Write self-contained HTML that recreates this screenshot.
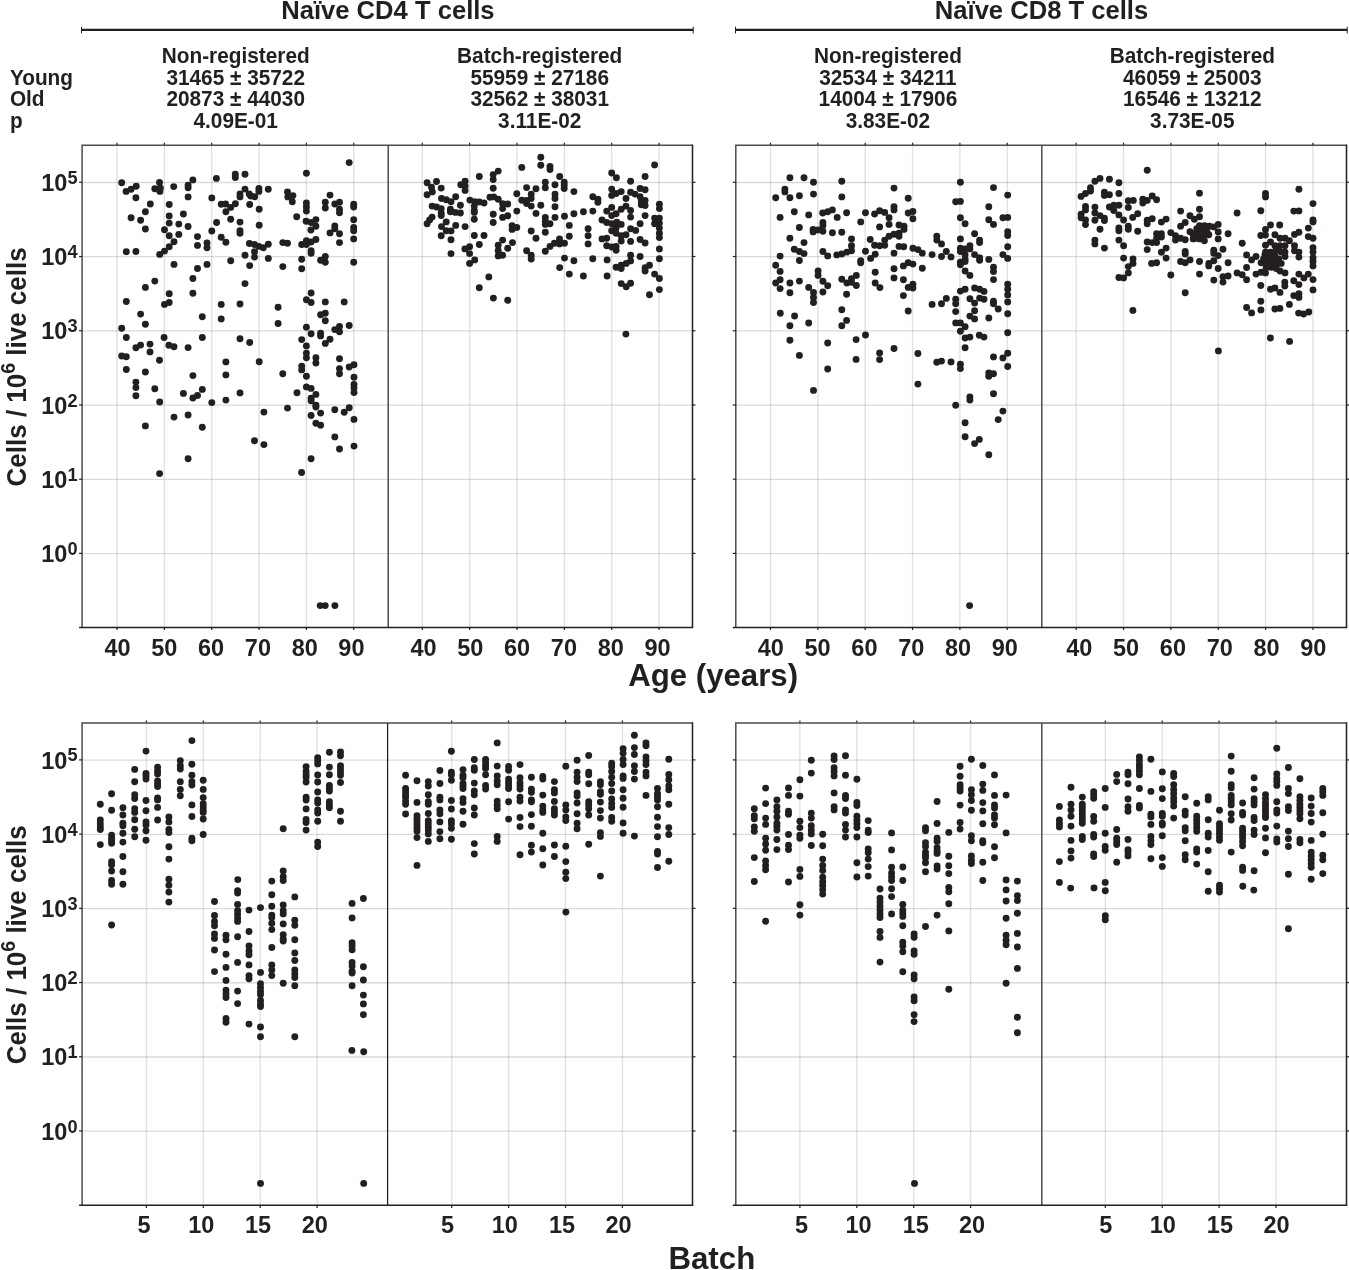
<!DOCTYPE html><html><head><meta charset="utf-8"><style>html,body{margin:0;padding:0;background:#fff;overflow:hidden;}svg{display:block;}.g{mix-blend-mode:multiply;}text{font-family:"Liberation Sans",sans-serif;font-weight:bold;fill:#231f20;}</style></head><body>
<svg width="1349" height="1270" viewBox="0 0 1349 1270">
<rect width="1349" height="1270" fill="#fff"/>
<line x1="82.1" y1="182.50" x2="692.5" y2="182.50" stroke="#d9dadd" stroke-width="1.3" class="g"/>
<line x1="82.1" y1="256.72" x2="692.5" y2="256.72" stroke="#d9dadd" stroke-width="1.3" class="g"/>
<line x1="82.1" y1="330.94" x2="692.5" y2="330.94" stroke="#d9dadd" stroke-width="1.3" class="g"/>
<line x1="82.1" y1="405.16" x2="692.5" y2="405.16" stroke="#d9dadd" stroke-width="1.3" class="g"/>
<line x1="82.1" y1="479.38" x2="692.5" y2="479.38" stroke="#d9dadd" stroke-width="1.3" class="g"/>
<line x1="82.1" y1="553.60" x2="692.5" y2="553.60" stroke="#d9dadd" stroke-width="1.3" class="g"/>
<line x1="735.8" y1="182.50" x2="1346.5" y2="182.50" stroke="#d9dadd" stroke-width="1.3" class="g"/>
<line x1="735.8" y1="256.72" x2="1346.5" y2="256.72" stroke="#d9dadd" stroke-width="1.3" class="g"/>
<line x1="735.8" y1="330.94" x2="1346.5" y2="330.94" stroke="#d9dadd" stroke-width="1.3" class="g"/>
<line x1="735.8" y1="405.16" x2="1346.5" y2="405.16" stroke="#d9dadd" stroke-width="1.3" class="g"/>
<line x1="735.8" y1="479.38" x2="1346.5" y2="479.38" stroke="#d9dadd" stroke-width="1.3" class="g"/>
<line x1="735.8" y1="553.60" x2="1346.5" y2="553.60" stroke="#d9dadd" stroke-width="1.3" class="g"/>
<line x1="117.00" y1="145.2" x2="117.00" y2="627.5" stroke="#e1e2e4" stroke-width="1.4" class="g"/>
<line x1="164.35" y1="145.2" x2="164.35" y2="627.5" stroke="#e1e2e4" stroke-width="1.4" class="g"/>
<line x1="211.70" y1="145.2" x2="211.70" y2="627.5" stroke="#e1e2e4" stroke-width="1.4" class="g"/>
<line x1="259.05" y1="145.2" x2="259.05" y2="627.5" stroke="#e1e2e4" stroke-width="1.4" class="g"/>
<line x1="306.40" y1="145.2" x2="306.40" y2="627.5" stroke="#e1e2e4" stroke-width="1.4" class="g"/>
<line x1="353.75" y1="145.2" x2="353.75" y2="627.5" stroke="#e1e2e4" stroke-width="1.4" class="g"/>
<line x1="422.30" y1="145.2" x2="422.30" y2="627.5" stroke="#e1e2e4" stroke-width="1.4" class="g"/>
<line x1="469.65" y1="145.2" x2="469.65" y2="627.5" stroke="#e1e2e4" stroke-width="1.4" class="g"/>
<line x1="517.00" y1="145.2" x2="517.00" y2="627.5" stroke="#e1e2e4" stroke-width="1.4" class="g"/>
<line x1="564.35" y1="145.2" x2="564.35" y2="627.5" stroke="#e1e2e4" stroke-width="1.4" class="g"/>
<line x1="611.70" y1="145.2" x2="611.70" y2="627.5" stroke="#e1e2e4" stroke-width="1.4" class="g"/>
<line x1="659.05" y1="145.2" x2="659.05" y2="627.5" stroke="#e1e2e4" stroke-width="1.4" class="g"/>
<line x1="770.50" y1="145.2" x2="770.50" y2="627.5" stroke="#e1e2e4" stroke-width="1.4" class="g"/>
<line x1="817.85" y1="145.2" x2="817.85" y2="627.5" stroke="#e1e2e4" stroke-width="1.4" class="g"/>
<line x1="865.20" y1="145.2" x2="865.20" y2="627.5" stroke="#e1e2e4" stroke-width="1.4" class="g"/>
<line x1="912.55" y1="145.2" x2="912.55" y2="627.5" stroke="#e1e2e4" stroke-width="1.4" class="g"/>
<line x1="959.90" y1="145.2" x2="959.90" y2="627.5" stroke="#e1e2e4" stroke-width="1.4" class="g"/>
<line x1="1007.25" y1="145.2" x2="1007.25" y2="627.5" stroke="#e1e2e4" stroke-width="1.4" class="g"/>
<line x1="1076.20" y1="145.2" x2="1076.20" y2="627.5" stroke="#e1e2e4" stroke-width="1.4" class="g"/>
<line x1="1123.55" y1="145.2" x2="1123.55" y2="627.5" stroke="#e1e2e4" stroke-width="1.4" class="g"/>
<line x1="1170.90" y1="145.2" x2="1170.90" y2="627.5" stroke="#e1e2e4" stroke-width="1.4" class="g"/>
<line x1="1218.25" y1="145.2" x2="1218.25" y2="627.5" stroke="#e1e2e4" stroke-width="1.4" class="g"/>
<line x1="1265.60" y1="145.2" x2="1265.60" y2="627.5" stroke="#e1e2e4" stroke-width="1.4" class="g"/>
<line x1="1312.95" y1="145.2" x2="1312.95" y2="627.5" stroke="#e1e2e4" stroke-width="1.4" class="g"/>
<line x1="82.1" y1="760.10" x2="692.5" y2="760.10" stroke="#d9dadd" stroke-width="1.3" class="g"/>
<line x1="82.1" y1="834.32" x2="692.5" y2="834.32" stroke="#d9dadd" stroke-width="1.3" class="g"/>
<line x1="82.1" y1="908.54" x2="692.5" y2="908.54" stroke="#d9dadd" stroke-width="1.3" class="g"/>
<line x1="82.1" y1="982.76" x2="692.5" y2="982.76" stroke="#d9dadd" stroke-width="1.3" class="g"/>
<line x1="82.1" y1="1056.98" x2="692.5" y2="1056.98" stroke="#d9dadd" stroke-width="1.3" class="g"/>
<line x1="82.1" y1="1131.20" x2="692.5" y2="1131.20" stroke="#d9dadd" stroke-width="1.3" class="g"/>
<line x1="735.8" y1="760.10" x2="1346.5" y2="760.10" stroke="#d9dadd" stroke-width="1.3" class="g"/>
<line x1="735.8" y1="834.32" x2="1346.5" y2="834.32" stroke="#d9dadd" stroke-width="1.3" class="g"/>
<line x1="735.8" y1="908.54" x2="1346.5" y2="908.54" stroke="#d9dadd" stroke-width="1.3" class="g"/>
<line x1="735.8" y1="982.76" x2="1346.5" y2="982.76" stroke="#d9dadd" stroke-width="1.3" class="g"/>
<line x1="735.8" y1="1056.98" x2="1346.5" y2="1056.98" stroke="#d9dadd" stroke-width="1.3" class="g"/>
<line x1="735.8" y1="1131.20" x2="1346.5" y2="1131.20" stroke="#d9dadd" stroke-width="1.3" class="g"/>
<line x1="146.40" y1="722.9" x2="146.40" y2="1205.3" stroke="#e1e2e4" stroke-width="1.4" class="g"/>
<line x1="203.30" y1="722.9" x2="203.30" y2="1205.3" stroke="#e1e2e4" stroke-width="1.4" class="g"/>
<line x1="260.20" y1="722.9" x2="260.20" y2="1205.3" stroke="#e1e2e4" stroke-width="1.4" class="g"/>
<line x1="317.10" y1="722.9" x2="317.10" y2="1205.3" stroke="#e1e2e4" stroke-width="1.4" class="g"/>
<line x1="451.70" y1="722.9" x2="451.70" y2="1205.3" stroke="#e1e2e4" stroke-width="1.4" class="g"/>
<line x1="508.60" y1="722.9" x2="508.60" y2="1205.3" stroke="#e1e2e4" stroke-width="1.4" class="g"/>
<line x1="565.50" y1="722.9" x2="565.50" y2="1205.3" stroke="#e1e2e4" stroke-width="1.4" class="g"/>
<line x1="622.40" y1="722.9" x2="622.40" y2="1205.3" stroke="#e1e2e4" stroke-width="1.4" class="g"/>
<line x1="799.90" y1="722.9" x2="799.90" y2="1205.3" stroke="#e1e2e4" stroke-width="1.4" class="g"/>
<line x1="856.80" y1="722.9" x2="856.80" y2="1205.3" stroke="#e1e2e4" stroke-width="1.4" class="g"/>
<line x1="913.70" y1="722.9" x2="913.70" y2="1205.3" stroke="#e1e2e4" stroke-width="1.4" class="g"/>
<line x1="970.60" y1="722.9" x2="970.60" y2="1205.3" stroke="#e1e2e4" stroke-width="1.4" class="g"/>
<line x1="1105.30" y1="722.9" x2="1105.30" y2="1205.3" stroke="#e1e2e4" stroke-width="1.4" class="g"/>
<line x1="1162.20" y1="722.9" x2="1162.20" y2="1205.3" stroke="#e1e2e4" stroke-width="1.4" class="g"/>
<line x1="1219.10" y1="722.9" x2="1219.10" y2="1205.3" stroke="#e1e2e4" stroke-width="1.4" class="g"/>
<line x1="1276.00" y1="722.9" x2="1276.00" y2="1205.3" stroke="#e1e2e4" stroke-width="1.4" class="g"/>
<path d="M82.1,627.5 L82.1,145.2 L692.5,145.2" fill="none" stroke="#4f4b4d" stroke-width="1.5"/>
<line x1="692.5" y1="144.5" x2="692.5" y2="627.5" stroke="#231f20" stroke-width="1.5"/>
<line x1="388.2" y1="145.2" x2="388.2" y2="627.5" stroke="#4f4b4d" stroke-width="1.5"/>
<line x1="79.1" y1="627.5" x2="693.2" y2="627.5" stroke="#231f20" stroke-width="1.5"/>
<line x1="79.1" y1="182.30" x2="82.1" y2="182.30" stroke="#231f20" stroke-width="1.2"/>
<line x1="692.5" y1="182.30" x2="695.5" y2="182.30" stroke="#231f20" stroke-width="1.2"/>
<line x1="79.1" y1="256.52" x2="82.1" y2="256.52" stroke="#231f20" stroke-width="1.2"/>
<line x1="692.5" y1="256.52" x2="695.5" y2="256.52" stroke="#231f20" stroke-width="1.2"/>
<line x1="79.1" y1="330.74" x2="82.1" y2="330.74" stroke="#231f20" stroke-width="1.2"/>
<line x1="692.5" y1="330.74" x2="695.5" y2="330.74" stroke="#231f20" stroke-width="1.2"/>
<line x1="79.1" y1="404.96" x2="82.1" y2="404.96" stroke="#231f20" stroke-width="1.2"/>
<line x1="692.5" y1="404.96" x2="695.5" y2="404.96" stroke="#231f20" stroke-width="1.2"/>
<line x1="79.1" y1="479.18" x2="82.1" y2="479.18" stroke="#231f20" stroke-width="1.2"/>
<line x1="692.5" y1="479.18" x2="695.5" y2="479.18" stroke="#231f20" stroke-width="1.2"/>
<line x1="79.1" y1="553.40" x2="82.1" y2="553.40" stroke="#231f20" stroke-width="1.2"/>
<line x1="692.5" y1="553.40" x2="695.5" y2="553.40" stroke="#231f20" stroke-width="1.2"/>
<line x1="117.00" y1="142.7" x2="117.00" y2="144.89999999999998" stroke="#231f20" stroke-width="1.2"/>
<line x1="117.00" y1="627.5" x2="117.00" y2="630.1" stroke="#231f20" stroke-width="1.2"/>
<line x1="164.35" y1="142.7" x2="164.35" y2="144.89999999999998" stroke="#231f20" stroke-width="1.2"/>
<line x1="164.35" y1="627.5" x2="164.35" y2="630.1" stroke="#231f20" stroke-width="1.2"/>
<line x1="211.70" y1="142.7" x2="211.70" y2="144.89999999999998" stroke="#231f20" stroke-width="1.2"/>
<line x1="211.70" y1="627.5" x2="211.70" y2="630.1" stroke="#231f20" stroke-width="1.2"/>
<line x1="259.05" y1="142.7" x2="259.05" y2="144.89999999999998" stroke="#231f20" stroke-width="1.2"/>
<line x1="259.05" y1="627.5" x2="259.05" y2="630.1" stroke="#231f20" stroke-width="1.2"/>
<line x1="306.40" y1="142.7" x2="306.40" y2="144.89999999999998" stroke="#231f20" stroke-width="1.2"/>
<line x1="306.40" y1="627.5" x2="306.40" y2="630.1" stroke="#231f20" stroke-width="1.2"/>
<line x1="353.75" y1="142.7" x2="353.75" y2="144.89999999999998" stroke="#231f20" stroke-width="1.2"/>
<line x1="353.75" y1="627.5" x2="353.75" y2="630.1" stroke="#231f20" stroke-width="1.2"/>
<line x1="422.30" y1="142.7" x2="422.30" y2="144.89999999999998" stroke="#231f20" stroke-width="1.2"/>
<line x1="422.30" y1="627.5" x2="422.30" y2="630.1" stroke="#231f20" stroke-width="1.2"/>
<line x1="469.65" y1="142.7" x2="469.65" y2="144.89999999999998" stroke="#231f20" stroke-width="1.2"/>
<line x1="469.65" y1="627.5" x2="469.65" y2="630.1" stroke="#231f20" stroke-width="1.2"/>
<line x1="517.00" y1="142.7" x2="517.00" y2="144.89999999999998" stroke="#231f20" stroke-width="1.2"/>
<line x1="517.00" y1="627.5" x2="517.00" y2="630.1" stroke="#231f20" stroke-width="1.2"/>
<line x1="564.35" y1="142.7" x2="564.35" y2="144.89999999999998" stroke="#231f20" stroke-width="1.2"/>
<line x1="564.35" y1="627.5" x2="564.35" y2="630.1" stroke="#231f20" stroke-width="1.2"/>
<line x1="611.70" y1="142.7" x2="611.70" y2="144.89999999999998" stroke="#231f20" stroke-width="1.2"/>
<line x1="611.70" y1="627.5" x2="611.70" y2="630.1" stroke="#231f20" stroke-width="1.2"/>
<line x1="659.05" y1="142.7" x2="659.05" y2="144.89999999999998" stroke="#231f20" stroke-width="1.2"/>
<line x1="659.05" y1="627.5" x2="659.05" y2="630.1" stroke="#231f20" stroke-width="1.2"/>
<path d="M735.8,627.5 L735.8,145.2 L1346.5,145.2" fill="none" stroke="#4f4b4d" stroke-width="1.5"/>
<line x1="1346.5" y1="144.5" x2="1346.5" y2="627.5" stroke="#231f20" stroke-width="1.5"/>
<line x1="1041.8" y1="145.2" x2="1041.8" y2="627.5" stroke="#4f4b4d" stroke-width="1.5"/>
<line x1="732.8" y1="627.5" x2="1347.2" y2="627.5" stroke="#231f20" stroke-width="1.5"/>
<line x1="732.8" y1="182.30" x2="735.8" y2="182.30" stroke="#231f20" stroke-width="1.2"/>
<line x1="1346.5" y1="182.30" x2="1349.5" y2="182.30" stroke="#231f20" stroke-width="1.2"/>
<line x1="732.8" y1="256.52" x2="735.8" y2="256.52" stroke="#231f20" stroke-width="1.2"/>
<line x1="1346.5" y1="256.52" x2="1349.5" y2="256.52" stroke="#231f20" stroke-width="1.2"/>
<line x1="732.8" y1="330.74" x2="735.8" y2="330.74" stroke="#231f20" stroke-width="1.2"/>
<line x1="1346.5" y1="330.74" x2="1349.5" y2="330.74" stroke="#231f20" stroke-width="1.2"/>
<line x1="732.8" y1="404.96" x2="735.8" y2="404.96" stroke="#231f20" stroke-width="1.2"/>
<line x1="1346.5" y1="404.96" x2="1349.5" y2="404.96" stroke="#231f20" stroke-width="1.2"/>
<line x1="732.8" y1="479.18" x2="735.8" y2="479.18" stroke="#231f20" stroke-width="1.2"/>
<line x1="1346.5" y1="479.18" x2="1349.5" y2="479.18" stroke="#231f20" stroke-width="1.2"/>
<line x1="732.8" y1="553.40" x2="735.8" y2="553.40" stroke="#231f20" stroke-width="1.2"/>
<line x1="1346.5" y1="553.40" x2="1349.5" y2="553.40" stroke="#231f20" stroke-width="1.2"/>
<line x1="770.50" y1="142.7" x2="770.50" y2="144.89999999999998" stroke="#231f20" stroke-width="1.2"/>
<line x1="770.50" y1="627.5" x2="770.50" y2="630.1" stroke="#231f20" stroke-width="1.2"/>
<line x1="817.85" y1="142.7" x2="817.85" y2="144.89999999999998" stroke="#231f20" stroke-width="1.2"/>
<line x1="817.85" y1="627.5" x2="817.85" y2="630.1" stroke="#231f20" stroke-width="1.2"/>
<line x1="865.20" y1="142.7" x2="865.20" y2="144.89999999999998" stroke="#231f20" stroke-width="1.2"/>
<line x1="865.20" y1="627.5" x2="865.20" y2="630.1" stroke="#231f20" stroke-width="1.2"/>
<line x1="912.55" y1="142.7" x2="912.55" y2="144.89999999999998" stroke="#231f20" stroke-width="1.2"/>
<line x1="912.55" y1="627.5" x2="912.55" y2="630.1" stroke="#231f20" stroke-width="1.2"/>
<line x1="959.90" y1="142.7" x2="959.90" y2="144.89999999999998" stroke="#231f20" stroke-width="1.2"/>
<line x1="959.90" y1="627.5" x2="959.90" y2="630.1" stroke="#231f20" stroke-width="1.2"/>
<line x1="1007.25" y1="142.7" x2="1007.25" y2="144.89999999999998" stroke="#231f20" stroke-width="1.2"/>
<line x1="1007.25" y1="627.5" x2="1007.25" y2="630.1" stroke="#231f20" stroke-width="1.2"/>
<line x1="1076.20" y1="142.7" x2="1076.20" y2="144.89999999999998" stroke="#231f20" stroke-width="1.2"/>
<line x1="1076.20" y1="627.5" x2="1076.20" y2="630.1" stroke="#231f20" stroke-width="1.2"/>
<line x1="1123.55" y1="142.7" x2="1123.55" y2="144.89999999999998" stroke="#231f20" stroke-width="1.2"/>
<line x1="1123.55" y1="627.5" x2="1123.55" y2="630.1" stroke="#231f20" stroke-width="1.2"/>
<line x1="1170.90" y1="142.7" x2="1170.90" y2="144.89999999999998" stroke="#231f20" stroke-width="1.2"/>
<line x1="1170.90" y1="627.5" x2="1170.90" y2="630.1" stroke="#231f20" stroke-width="1.2"/>
<line x1="1218.25" y1="142.7" x2="1218.25" y2="144.89999999999998" stroke="#231f20" stroke-width="1.2"/>
<line x1="1218.25" y1="627.5" x2="1218.25" y2="630.1" stroke="#231f20" stroke-width="1.2"/>
<line x1="1265.60" y1="142.7" x2="1265.60" y2="144.89999999999998" stroke="#231f20" stroke-width="1.2"/>
<line x1="1265.60" y1="627.5" x2="1265.60" y2="630.1" stroke="#231f20" stroke-width="1.2"/>
<line x1="1312.95" y1="142.7" x2="1312.95" y2="144.89999999999998" stroke="#231f20" stroke-width="1.2"/>
<line x1="1312.95" y1="627.5" x2="1312.95" y2="630.1" stroke="#231f20" stroke-width="1.2"/>
<path d="M82.1,1205.3 L82.1,722.9 L692.5,722.9" fill="none" stroke="#4f4b4d" stroke-width="1.5"/>
<line x1="692.5" y1="722.1999999999999" x2="692.5" y2="1205.3" stroke="#231f20" stroke-width="1.5"/>
<line x1="387.6" y1="722.9" x2="387.6" y2="1205.3" stroke="#231f20" stroke-width="1.25"/>
<line x1="79.1" y1="1205.3" x2="693.2" y2="1205.3" stroke="#231f20" stroke-width="1.5"/>
<line x1="79.1" y1="759.90" x2="82.1" y2="759.90" stroke="#231f20" stroke-width="1.2"/>
<line x1="692.5" y1="759.90" x2="695.5" y2="759.90" stroke="#231f20" stroke-width="1.2"/>
<line x1="79.1" y1="834.12" x2="82.1" y2="834.12" stroke="#231f20" stroke-width="1.2"/>
<line x1="692.5" y1="834.12" x2="695.5" y2="834.12" stroke="#231f20" stroke-width="1.2"/>
<line x1="79.1" y1="908.34" x2="82.1" y2="908.34" stroke="#231f20" stroke-width="1.2"/>
<line x1="692.5" y1="908.34" x2="695.5" y2="908.34" stroke="#231f20" stroke-width="1.2"/>
<line x1="79.1" y1="982.56" x2="82.1" y2="982.56" stroke="#231f20" stroke-width="1.2"/>
<line x1="692.5" y1="982.56" x2="695.5" y2="982.56" stroke="#231f20" stroke-width="1.2"/>
<line x1="79.1" y1="1056.78" x2="82.1" y2="1056.78" stroke="#231f20" stroke-width="1.2"/>
<line x1="692.5" y1="1056.78" x2="695.5" y2="1056.78" stroke="#231f20" stroke-width="1.2"/>
<line x1="79.1" y1="1131.00" x2="82.1" y2="1131.00" stroke="#231f20" stroke-width="1.2"/>
<line x1="692.5" y1="1131.00" x2="695.5" y2="1131.00" stroke="#231f20" stroke-width="1.2"/>
<line x1="146.40" y1="720.4" x2="146.40" y2="722.6" stroke="#231f20" stroke-width="1.2"/>
<line x1="146.40" y1="1205.3" x2="146.40" y2="1207.8999999999999" stroke="#231f20" stroke-width="1.2"/>
<line x1="203.30" y1="720.4" x2="203.30" y2="722.6" stroke="#231f20" stroke-width="1.2"/>
<line x1="203.30" y1="1205.3" x2="203.30" y2="1207.8999999999999" stroke="#231f20" stroke-width="1.2"/>
<line x1="260.20" y1="720.4" x2="260.20" y2="722.6" stroke="#231f20" stroke-width="1.2"/>
<line x1="260.20" y1="1205.3" x2="260.20" y2="1207.8999999999999" stroke="#231f20" stroke-width="1.2"/>
<line x1="317.10" y1="720.4" x2="317.10" y2="722.6" stroke="#231f20" stroke-width="1.2"/>
<line x1="317.10" y1="1205.3" x2="317.10" y2="1207.8999999999999" stroke="#231f20" stroke-width="1.2"/>
<line x1="451.70" y1="720.4" x2="451.70" y2="722.6" stroke="#231f20" stroke-width="1.2"/>
<line x1="451.70" y1="1205.3" x2="451.70" y2="1207.8999999999999" stroke="#231f20" stroke-width="1.2"/>
<line x1="508.60" y1="720.4" x2="508.60" y2="722.6" stroke="#231f20" stroke-width="1.2"/>
<line x1="508.60" y1="1205.3" x2="508.60" y2="1207.8999999999999" stroke="#231f20" stroke-width="1.2"/>
<line x1="565.50" y1="720.4" x2="565.50" y2="722.6" stroke="#231f20" stroke-width="1.2"/>
<line x1="565.50" y1="1205.3" x2="565.50" y2="1207.8999999999999" stroke="#231f20" stroke-width="1.2"/>
<line x1="622.40" y1="720.4" x2="622.40" y2="722.6" stroke="#231f20" stroke-width="1.2"/>
<line x1="622.40" y1="1205.3" x2="622.40" y2="1207.8999999999999" stroke="#231f20" stroke-width="1.2"/>
<path d="M735.8,1205.3 L735.8,722.9 L1346.5,722.9" fill="none" stroke="#4f4b4d" stroke-width="1.5"/>
<line x1="1346.5" y1="722.1999999999999" x2="1346.5" y2="1205.3" stroke="#231f20" stroke-width="1.5"/>
<line x1="1041.8" y1="722.9" x2="1041.8" y2="1205.3" stroke="#4f4b4d" stroke-width="1.5"/>
<line x1="732.8" y1="1205.3" x2="1347.2" y2="1205.3" stroke="#231f20" stroke-width="1.5"/>
<line x1="732.8" y1="759.90" x2="735.8" y2="759.90" stroke="#231f20" stroke-width="1.2"/>
<line x1="1346.5" y1="759.90" x2="1349.5" y2="759.90" stroke="#231f20" stroke-width="1.2"/>
<line x1="732.8" y1="834.12" x2="735.8" y2="834.12" stroke="#231f20" stroke-width="1.2"/>
<line x1="1346.5" y1="834.12" x2="1349.5" y2="834.12" stroke="#231f20" stroke-width="1.2"/>
<line x1="732.8" y1="908.34" x2="735.8" y2="908.34" stroke="#231f20" stroke-width="1.2"/>
<line x1="1346.5" y1="908.34" x2="1349.5" y2="908.34" stroke="#231f20" stroke-width="1.2"/>
<line x1="732.8" y1="982.56" x2="735.8" y2="982.56" stroke="#231f20" stroke-width="1.2"/>
<line x1="1346.5" y1="982.56" x2="1349.5" y2="982.56" stroke="#231f20" stroke-width="1.2"/>
<line x1="732.8" y1="1056.78" x2="735.8" y2="1056.78" stroke="#231f20" stroke-width="1.2"/>
<line x1="1346.5" y1="1056.78" x2="1349.5" y2="1056.78" stroke="#231f20" stroke-width="1.2"/>
<line x1="732.8" y1="1131.00" x2="735.8" y2="1131.00" stroke="#231f20" stroke-width="1.2"/>
<line x1="1346.5" y1="1131.00" x2="1349.5" y2="1131.00" stroke="#231f20" stroke-width="1.2"/>
<line x1="799.90" y1="720.4" x2="799.90" y2="722.6" stroke="#231f20" stroke-width="1.2"/>
<line x1="799.90" y1="1205.3" x2="799.90" y2="1207.8999999999999" stroke="#231f20" stroke-width="1.2"/>
<line x1="856.80" y1="720.4" x2="856.80" y2="722.6" stroke="#231f20" stroke-width="1.2"/>
<line x1="856.80" y1="1205.3" x2="856.80" y2="1207.8999999999999" stroke="#231f20" stroke-width="1.2"/>
<line x1="913.70" y1="720.4" x2="913.70" y2="722.6" stroke="#231f20" stroke-width="1.2"/>
<line x1="913.70" y1="1205.3" x2="913.70" y2="1207.8999999999999" stroke="#231f20" stroke-width="1.2"/>
<line x1="970.60" y1="720.4" x2="970.60" y2="722.6" stroke="#231f20" stroke-width="1.2"/>
<line x1="970.60" y1="1205.3" x2="970.60" y2="1207.8999999999999" stroke="#231f20" stroke-width="1.2"/>
<line x1="1105.30" y1="720.4" x2="1105.30" y2="722.6" stroke="#231f20" stroke-width="1.2"/>
<line x1="1105.30" y1="1205.3" x2="1105.30" y2="1207.8999999999999" stroke="#231f20" stroke-width="1.2"/>
<line x1="1162.20" y1="720.4" x2="1162.20" y2="722.6" stroke="#231f20" stroke-width="1.2"/>
<line x1="1162.20" y1="1205.3" x2="1162.20" y2="1207.8999999999999" stroke="#231f20" stroke-width="1.2"/>
<line x1="1219.10" y1="720.4" x2="1219.10" y2="722.6" stroke="#231f20" stroke-width="1.2"/>
<line x1="1219.10" y1="1205.3" x2="1219.10" y2="1207.8999999999999" stroke="#231f20" stroke-width="1.2"/>
<line x1="1276.00" y1="720.4" x2="1276.00" y2="722.6" stroke="#231f20" stroke-width="1.2"/>
<line x1="1276.00" y1="1205.3" x2="1276.00" y2="1207.8999999999999" stroke="#231f20" stroke-width="1.2"/>
<text x="67.3" y="190.9" font-size="23.5" text-anchor="end">10</text>
<text x="67.6" y="183.8" font-size="18.2">5</text>
<text x="67.3" y="265.1" font-size="23.5" text-anchor="end">10</text>
<text x="67.6" y="258.0" font-size="18.2">4</text>
<text x="67.3" y="339.3" font-size="23.5" text-anchor="end">10</text>
<text x="67.6" y="332.2" font-size="18.2">3</text>
<text x="67.3" y="413.6" font-size="23.5" text-anchor="end">10</text>
<text x="67.6" y="406.5" font-size="18.2">2</text>
<text x="67.3" y="487.8" font-size="23.5" text-anchor="end">10</text>
<text x="67.6" y="480.7" font-size="18.2">1</text>
<text x="67.3" y="562.0" font-size="23.5" text-anchor="end">10</text>
<text x="67.6" y="554.9" font-size="18.2">0</text>
<text x="117.5" y="655.9" font-size="23.5" text-anchor="middle">40</text>
<text x="164.3" y="655.9" font-size="23.5" text-anchor="middle">50</text>
<text x="211.1" y="655.9" font-size="23.5" text-anchor="middle">60</text>
<text x="257.9" y="655.9" font-size="23.5" text-anchor="middle">70</text>
<text x="304.7" y="655.9" font-size="23.5" text-anchor="middle">80</text>
<text x="351.4" y="655.9" font-size="23.5" text-anchor="middle">90</text>
<text x="423.5" y="655.9" font-size="23.5" text-anchor="middle">40</text>
<text x="470.3" y="655.9" font-size="23.5" text-anchor="middle">50</text>
<text x="517.1" y="655.9" font-size="23.5" text-anchor="middle">60</text>
<text x="563.9" y="655.9" font-size="23.5" text-anchor="middle">70</text>
<text x="610.7" y="655.9" font-size="23.5" text-anchor="middle">80</text>
<text x="657.5" y="655.9" font-size="23.5" text-anchor="middle">90</text>
<text x="770.8" y="655.9" font-size="23.5" text-anchor="middle">40</text>
<text x="817.6" y="655.9" font-size="23.5" text-anchor="middle">50</text>
<text x="864.4" y="655.9" font-size="23.5" text-anchor="middle">60</text>
<text x="911.2" y="655.9" font-size="23.5" text-anchor="middle">70</text>
<text x="958.0" y="655.9" font-size="23.5" text-anchor="middle">80</text>
<text x="1004.8" y="655.9" font-size="23.5" text-anchor="middle">90</text>
<text x="1079.3" y="655.9" font-size="23.5" text-anchor="middle">40</text>
<text x="1126.1" y="655.9" font-size="23.5" text-anchor="middle">50</text>
<text x="1172.9" y="655.9" font-size="23.5" text-anchor="middle">60</text>
<text x="1219.7" y="655.9" font-size="23.5" text-anchor="middle">70</text>
<text x="1266.5" y="655.9" font-size="23.5" text-anchor="middle">80</text>
<text x="1313.2" y="655.9" font-size="23.5" text-anchor="middle">90</text>
<text x="67.3" y="768.5" font-size="23.5" text-anchor="end">10</text>
<text x="67.6" y="761.4" font-size="18.2">5</text>
<text x="67.3" y="842.7" font-size="23.5" text-anchor="end">10</text>
<text x="67.6" y="835.6" font-size="18.2">4</text>
<text x="67.3" y="916.9" font-size="23.5" text-anchor="end">10</text>
<text x="67.6" y="909.8" font-size="18.2">3</text>
<text x="67.3" y="991.2" font-size="23.5" text-anchor="end">10</text>
<text x="67.6" y="984.1" font-size="18.2">2</text>
<text x="67.3" y="1065.4" font-size="23.5" text-anchor="end">10</text>
<text x="67.6" y="1058.3" font-size="18.2">1</text>
<text x="67.3" y="1139.6" font-size="23.5" text-anchor="end">10</text>
<text x="67.6" y="1132.5" font-size="18.2">0</text>
<text x="144.0" y="1233.1" font-size="23.5" text-anchor="middle">5</text>
<text x="201.2" y="1233.1" font-size="23.5" text-anchor="middle">10</text>
<text x="258.0" y="1233.1" font-size="23.5" text-anchor="middle">15</text>
<text x="314.8" y="1233.1" font-size="23.5" text-anchor="middle">20</text>
<text x="447.6" y="1233.1" font-size="23.5" text-anchor="middle">5</text>
<text x="504.7" y="1233.1" font-size="23.5" text-anchor="middle">10</text>
<text x="562.0" y="1233.1" font-size="23.5" text-anchor="middle">15</text>
<text x="618.6" y="1233.1" font-size="23.5" text-anchor="middle">20</text>
<text x="801.6" y="1233.1" font-size="23.5" text-anchor="middle">5</text>
<text x="858.5" y="1233.1" font-size="23.5" text-anchor="middle">10</text>
<text x="915.7" y="1233.1" font-size="23.5" text-anchor="middle">15</text>
<text x="972.1" y="1233.1" font-size="23.5" text-anchor="middle">20</text>
<text x="1105.7" y="1233.1" font-size="23.5" text-anchor="middle">5</text>
<text x="1162.8" y="1233.1" font-size="23.5" text-anchor="middle">10</text>
<text x="1219.9" y="1233.1" font-size="23.5" text-anchor="middle">15</text>
<text x="1276.6" y="1233.1" font-size="23.5" text-anchor="middle">20</text>
<text transform="translate(713.1,685.9) scale(1.023,1)" font-size="30.5" text-anchor="middle">Age (years)</text>
<text transform="translate(711.8,1268.5) scale(1.025,1)" font-size="30.5" text-anchor="middle">Batch</text>
<text transform="translate(26.3,366.9) rotate(-90) scale(1.0,1.07)" font-size="26.0" text-anchor="middle">Cells / 10<tspan font-size="19.5" dy="-11">6</tspan><tspan dy="11"> live cells</tspan></text>
<text transform="translate(26.3,944.8) rotate(-90) scale(1.0,1.07)" font-size="26.0" text-anchor="middle">Cells / 10<tspan font-size="19.5" dy="-11">6</tspan><tspan dy="11"> live cells</tspan></text>
<text transform="translate(387.9,19) scale(1,1.04)" font-size="25.6" text-anchor="middle">Naïve CD4 T cells</text>
<text transform="translate(1041.5,19) scale(1,1.04)" font-size="25.6" text-anchor="middle">Naïve CD8 T cells</text>
<line x1="81.5" y1="29.9" x2="693.2" y2="29.9" stroke="#231f20" stroke-width="2.4"/>
<line x1="81.5" y1="26.8" x2="81.5" y2="33.4" stroke="#231f20" stroke-width="1"/>
<line x1="693.2" y1="26.8" x2="693.2" y2="33.4" stroke="#231f20" stroke-width="1"/>
<line x1="735.5" y1="29.9" x2="1347.2" y2="29.9" stroke="#231f20" stroke-width="2.4"/>
<line x1="735.5" y1="26.8" x2="735.5" y2="33.4" stroke="#231f20" stroke-width="1"/>
<line x1="1347.2" y1="26.8" x2="1347.2" y2="33.4" stroke="#231f20" stroke-width="1"/>
<text transform="translate(235.7,62.9) scale(1,1.07)" font-size="20.8" text-anchor="middle">Non-registered</text>
<text transform="translate(235.7,84.5) scale(1,1.07)" font-size="20.8" text-anchor="middle">31465 ± 35722</text>
<text transform="translate(235.7,106.1) scale(1,1.07)" font-size="20.8" text-anchor="middle">20873 ± 44030</text>
<text transform="translate(235.7,127.8) scale(1,1.07)" font-size="20.8" text-anchor="middle">4.09E-01</text>
<text transform="translate(539.7,62.9) scale(1,1.07)" font-size="20.8" text-anchor="middle">Batch-registered</text>
<text transform="translate(539.7,84.5) scale(1,1.07)" font-size="20.8" text-anchor="middle">55959 ± 27186</text>
<text transform="translate(539.7,106.1) scale(1,1.07)" font-size="20.8" text-anchor="middle">32562 ± 38031</text>
<text transform="translate(539.7,127.8) scale(1,1.07)" font-size="20.8" text-anchor="middle">3.11E-02</text>
<text transform="translate(887.9,62.9) scale(1,1.07)" font-size="20.8" text-anchor="middle">Non-registered</text>
<text transform="translate(887.9,84.5) scale(1,1.07)" font-size="20.8" text-anchor="middle">32534 ± 34211</text>
<text transform="translate(887.9,106.1) scale(1,1.07)" font-size="20.8" text-anchor="middle">14004 ± 17906</text>
<text transform="translate(887.9,127.8) scale(1,1.07)" font-size="20.8" text-anchor="middle">3.83E-02</text>
<text transform="translate(1192.3,62.9) scale(1,1.07)" font-size="20.8" text-anchor="middle">Batch-registered</text>
<text transform="translate(1192.3,84.5) scale(1,1.07)" font-size="20.8" text-anchor="middle">46059 ± 25003</text>
<text transform="translate(1192.3,106.1) scale(1,1.07)" font-size="20.8" text-anchor="middle">16546 ± 13212</text>
<text transform="translate(1192.3,127.8) scale(1,1.07)" font-size="20.8" text-anchor="middle">3.73E-05</text>
<text transform="translate(9.9,84.5) scale(1,1.07)" font-size="20.8" text-anchor="start">Young</text>
<text transform="translate(9.9,106.1) scale(1,1.07)" font-size="20.8" text-anchor="start">Old</text>
<text transform="translate(9.9,127.8) scale(1,1.07)" font-size="20.8" text-anchor="start">p</text>
<g fill="#231f20">
<circle cx="121.7" cy="182.8" r="3.45"/>
<circle cx="126.1" cy="191.4" r="3.45"/>
<circle cx="131.1" cy="189.3" r="3.45"/>
<circle cx="136.2" cy="186.2" r="3.45"/>
<circle cx="135.9" cy="197.7" r="3.45"/>
<circle cx="159.5" cy="182.5" r="3.45"/>
<circle cx="154.8" cy="188.8" r="3.45"/>
<circle cx="160.4" cy="188.1" r="3.45"/>
<circle cx="159.9" cy="191.4" r="3.45"/>
<circle cx="173.7" cy="186.6" r="3.45"/>
<circle cx="188.1" cy="185.1" r="3.45"/>
<circle cx="188.1" cy="187.8" r="3.45"/>
<circle cx="192.9" cy="179.9" r="3.45"/>
<circle cx="188.1" cy="196.9" r="3.45"/>
<circle cx="216.4" cy="178.4" r="3.45"/>
<circle cx="235.3" cy="174.2" r="3.45"/>
<circle cx="235.3" cy="177.5" r="3.45"/>
<circle cx="211.8" cy="197.9" r="3.45"/>
<circle cx="221.2" cy="204.2" r="3.45"/>
<circle cx="225.6" cy="204.0" r="3.45"/>
<circle cx="230.7" cy="207.4" r="3.45"/>
<circle cx="235.4" cy="203.8" r="3.45"/>
<circle cx="225.9" cy="211.8" r="3.45"/>
<circle cx="230.7" cy="219.3" r="3.45"/>
<circle cx="216.6" cy="222.5" r="3.45"/>
<circle cx="211.8" cy="231.0" r="3.45"/>
<circle cx="221.2" cy="237.3" r="3.45"/>
<circle cx="225.9" cy="242.3" r="3.45"/>
<circle cx="197.5" cy="236.6" r="3.45"/>
<circle cx="197.5" cy="245.4" r="3.45"/>
<circle cx="207.0" cy="243.0" r="3.45"/>
<circle cx="207.0" cy="247.7" r="3.45"/>
<circle cx="150.3" cy="204.0" r="3.45"/>
<circle cx="145.4" cy="211.8" r="3.45"/>
<circle cx="131.1" cy="217.8" r="3.45"/>
<circle cx="140.6" cy="220.3" r="3.45"/>
<circle cx="145.4" cy="229.0" r="3.45"/>
<circle cx="169.2" cy="204.5" r="3.45"/>
<circle cx="169.2" cy="215.9" r="3.45"/>
<circle cx="183.4" cy="214.0" r="3.45"/>
<circle cx="169.2" cy="223.1" r="3.45"/>
<circle cx="178.8" cy="224.1" r="3.45"/>
<circle cx="188.1" cy="226.5" r="3.45"/>
<circle cx="164.5" cy="229.7" r="3.45"/>
<circle cx="169.2" cy="235.7" r="3.45"/>
<circle cx="178.8" cy="234.4" r="3.45"/>
<circle cx="174.0" cy="241.8" r="3.45"/>
<circle cx="169.2" cy="246.8" r="3.45"/>
<circle cx="164.5" cy="251.1" r="3.45"/>
<circle cx="159.7" cy="254.4" r="3.45"/>
<circle cx="126.3" cy="251.7" r="3.45"/>
<circle cx="135.9" cy="251.5" r="3.45"/>
<circle cx="230.7" cy="260.7" r="3.45"/>
<circle cx="174.0" cy="264.4" r="3.45"/>
<circle cx="197.5" cy="268.5" r="3.45"/>
<circle cx="207.0" cy="264.4" r="3.45"/>
<circle cx="192.9" cy="278.5" r="3.45"/>
<circle cx="154.8" cy="281.1" r="3.45"/>
<circle cx="145.4" cy="287.4" r="3.45"/>
<circle cx="169.2" cy="293.7" r="3.45"/>
<circle cx="192.9" cy="293.3" r="3.45"/>
<circle cx="126.3" cy="301.5" r="3.45"/>
<circle cx="164.5" cy="304.4" r="3.45"/>
<circle cx="169.2" cy="302.5" r="3.45"/>
<circle cx="221.2" cy="304.4" r="3.45"/>
<circle cx="245.0" cy="174.2" r="3.45"/>
<circle cx="306.4" cy="173.3" r="3.45"/>
<circle cx="349.2" cy="162.6" r="3.45"/>
<circle cx="245.0" cy="189.1" r="3.45"/>
<circle cx="240.0" cy="193.9" r="3.45"/>
<circle cx="240.0" cy="196.9" r="3.45"/>
<circle cx="249.2" cy="193.9" r="3.45"/>
<circle cx="250.7" cy="196.0" r="3.45"/>
<circle cx="254.7" cy="196.7" r="3.45"/>
<circle cx="258.9" cy="188.5" r="3.45"/>
<circle cx="258.9" cy="191.4" r="3.45"/>
<circle cx="268.3" cy="189.3" r="3.45"/>
<circle cx="249.7" cy="204.5" r="3.45"/>
<circle cx="259.2" cy="209.3" r="3.45"/>
<circle cx="287.5" cy="191.9" r="3.45"/>
<circle cx="287.8" cy="196.9" r="3.45"/>
<circle cx="292.9" cy="195.6" r="3.45"/>
<circle cx="292.3" cy="201.7" r="3.45"/>
<circle cx="306.4" cy="203.0" r="3.45"/>
<circle cx="306.4" cy="207.0" r="3.45"/>
<circle cx="306.4" cy="211.1" r="3.45"/>
<circle cx="325.3" cy="202.3" r="3.45"/>
<circle cx="325.3" cy="208.0" r="3.45"/>
<circle cx="330.0" cy="195.1" r="3.45"/>
<circle cx="334.8" cy="204.0" r="3.45"/>
<circle cx="339.5" cy="202.3" r="3.45"/>
<circle cx="339.5" cy="209.3" r="3.45"/>
<circle cx="339.5" cy="212.8" r="3.45"/>
<circle cx="353.7" cy="204.2" r="3.45"/>
<circle cx="353.7" cy="207.0" r="3.45"/>
<circle cx="296.7" cy="216.8" r="3.45"/>
<circle cx="240.0" cy="222.1" r="3.45"/>
<circle cx="259.2" cy="225.3" r="3.45"/>
<circle cx="240.0" cy="230.7" r="3.45"/>
<circle cx="240.0" cy="233.2" r="3.45"/>
<circle cx="306.1" cy="221.2" r="3.45"/>
<circle cx="311.1" cy="222.5" r="3.45"/>
<circle cx="315.9" cy="219.6" r="3.45"/>
<circle cx="315.9" cy="226.3" r="3.45"/>
<circle cx="310.9" cy="230.0" r="3.45"/>
<circle cx="334.8" cy="225.9" r="3.45"/>
<circle cx="334.8" cy="228.8" r="3.45"/>
<circle cx="330.0" cy="232.9" r="3.45"/>
<circle cx="339.5" cy="233.8" r="3.45"/>
<circle cx="353.7" cy="219.7" r="3.45"/>
<circle cx="353.7" cy="227.5" r="3.45"/>
<circle cx="353.7" cy="230.7" r="3.45"/>
<circle cx="353.7" cy="238.9" r="3.45"/>
<circle cx="339.5" cy="242.6" r="3.45"/>
<circle cx="249.4" cy="243.5" r="3.45"/>
<circle cx="254.5" cy="244.5" r="3.45"/>
<circle cx="258.9" cy="246.4" r="3.45"/>
<circle cx="263.3" cy="247.7" r="3.45"/>
<circle cx="268.3" cy="244.3" r="3.45"/>
<circle cx="254.5" cy="251.8" r="3.45"/>
<circle cx="254.5" cy="257.1" r="3.45"/>
<circle cx="245.0" cy="255.2" r="3.45"/>
<circle cx="268.3" cy="258.4" r="3.45"/>
<circle cx="282.8" cy="242.6" r="3.45"/>
<circle cx="287.5" cy="243.3" r="3.45"/>
<circle cx="301.7" cy="244.5" r="3.45"/>
<circle cx="306.4" cy="240.7" r="3.45"/>
<circle cx="306.4" cy="244.5" r="3.45"/>
<circle cx="311.1" cy="242.0" r="3.45"/>
<circle cx="315.9" cy="239.5" r="3.45"/>
<circle cx="311.1" cy="250.8" r="3.45"/>
<circle cx="311.1" cy="253.3" r="3.45"/>
<circle cx="301.7" cy="259.3" r="3.45"/>
<circle cx="320.6" cy="260.3" r="3.45"/>
<circle cx="325.3" cy="256.5" r="3.45"/>
<circle cx="325.3" cy="262.2" r="3.45"/>
<circle cx="353.7" cy="262.2" r="3.45"/>
<circle cx="249.7" cy="265.6" r="3.45"/>
<circle cx="282.8" cy="266.6" r="3.45"/>
<circle cx="301.7" cy="268.8" r="3.45"/>
<circle cx="245.0" cy="283.6" r="3.45"/>
<circle cx="311.1" cy="293.0" r="3.45"/>
<circle cx="306.4" cy="299.7" r="3.45"/>
<circle cx="311.1" cy="302.5" r="3.45"/>
<circle cx="325.3" cy="301.9" r="3.45"/>
<circle cx="344.2" cy="301.9" r="3.45"/>
<circle cx="240.0" cy="304.0" r="3.45"/>
<circle cx="140.6" cy="314.1" r="3.45"/>
<circle cx="145.4" cy="324.3" r="3.45"/>
<circle cx="202.3" cy="316.7" r="3.45"/>
<circle cx="221.2" cy="318.9" r="3.45"/>
<circle cx="121.7" cy="328.3" r="3.45"/>
<circle cx="126.3" cy="337.5" r="3.45"/>
<circle cx="164.1" cy="337.5" r="3.45"/>
<circle cx="202.3" cy="337.5" r="3.45"/>
<circle cx="135.9" cy="347.8" r="3.45"/>
<circle cx="140.6" cy="345.1" r="3.45"/>
<circle cx="150.0" cy="344.1" r="3.45"/>
<circle cx="150.0" cy="351.9" r="3.45"/>
<circle cx="168.9" cy="345.3" r="3.45"/>
<circle cx="174.0" cy="346.8" r="3.45"/>
<circle cx="188.1" cy="347.6" r="3.45"/>
<circle cx="121.7" cy="356.0" r="3.45"/>
<circle cx="126.3" cy="356.7" r="3.45"/>
<circle cx="159.5" cy="360.2" r="3.45"/>
<circle cx="225.9" cy="361.9" r="3.45"/>
<circle cx="126.3" cy="369.5" r="3.45"/>
<circle cx="145.4" cy="372.0" r="3.45"/>
<circle cx="192.9" cy="375.6" r="3.45"/>
<circle cx="225.9" cy="374.9" r="3.45"/>
<circle cx="135.9" cy="382.1" r="3.45"/>
<circle cx="135.9" cy="387.6" r="3.45"/>
<circle cx="154.8" cy="388.8" r="3.45"/>
<circle cx="135.9" cy="395.7" r="3.45"/>
<circle cx="183.4" cy="393.4" r="3.45"/>
<circle cx="192.9" cy="398.0" r="3.45"/>
<circle cx="197.5" cy="395.5" r="3.45"/>
<circle cx="202.3" cy="389.4" r="3.45"/>
<circle cx="159.7" cy="402.0" r="3.45"/>
<circle cx="211.8" cy="402.6" r="3.45"/>
<circle cx="225.9" cy="400.1" r="3.45"/>
<circle cx="174.0" cy="417.1" r="3.45"/>
<circle cx="188.1" cy="415.0" r="3.45"/>
<circle cx="145.4" cy="425.9" r="3.45"/>
<circle cx="202.3" cy="427.2" r="3.45"/>
<circle cx="188.1" cy="458.7" r="3.45"/>
<circle cx="278.1" cy="307.3" r="3.45"/>
<circle cx="278.1" cy="323.5" r="3.45"/>
<circle cx="320.6" cy="314.8" r="3.45"/>
<circle cx="325.3" cy="313.2" r="3.45"/>
<circle cx="325.3" cy="320.7" r="3.45"/>
<circle cx="306.4" cy="327.3" r="3.45"/>
<circle cx="311.1" cy="333.7" r="3.45"/>
<circle cx="320.6" cy="333.3" r="3.45"/>
<circle cx="320.6" cy="335.9" r="3.45"/>
<circle cx="334.8" cy="329.6" r="3.45"/>
<circle cx="339.5" cy="326.4" r="3.45"/>
<circle cx="339.5" cy="331.7" r="3.45"/>
<circle cx="349.2" cy="325.5" r="3.45"/>
<circle cx="240.0" cy="338.8" r="3.45"/>
<circle cx="249.7" cy="342.5" r="3.45"/>
<circle cx="301.7" cy="339.6" r="3.45"/>
<circle cx="306.4" cy="345.9" r="3.45"/>
<circle cx="330.0" cy="339.3" r="3.45"/>
<circle cx="325.3" cy="343.4" r="3.45"/>
<circle cx="306.4" cy="353.1" r="3.45"/>
<circle cx="306.4" cy="357.7" r="3.45"/>
<circle cx="315.9" cy="357.7" r="3.45"/>
<circle cx="315.9" cy="363.0" r="3.45"/>
<circle cx="339.5" cy="358.8" r="3.45"/>
<circle cx="259.2" cy="361.7" r="3.45"/>
<circle cx="301.7" cy="366.1" r="3.45"/>
<circle cx="301.7" cy="369.9" r="3.45"/>
<circle cx="306.4" cy="376.2" r="3.45"/>
<circle cx="282.8" cy="373.7" r="3.45"/>
<circle cx="339.5" cy="368.6" r="3.45"/>
<circle cx="339.5" cy="373.7" r="3.45"/>
<circle cx="349.2" cy="367.0" r="3.45"/>
<circle cx="354.0" cy="364.8" r="3.45"/>
<circle cx="354.0" cy="377.2" r="3.45"/>
<circle cx="354.0" cy="384.4" r="3.45"/>
<circle cx="354.0" cy="388.1" r="3.45"/>
<circle cx="354.0" cy="392.6" r="3.45"/>
<circle cx="306.4" cy="386.9" r="3.45"/>
<circle cx="311.1" cy="388.4" r="3.45"/>
<circle cx="315.9" cy="394.4" r="3.45"/>
<circle cx="311.1" cy="398.2" r="3.45"/>
<circle cx="311.1" cy="400.7" r="3.45"/>
<circle cx="315.9" cy="405.2" r="3.45"/>
<circle cx="315.9" cy="407.0" r="3.45"/>
<circle cx="297.0" cy="392.8" r="3.45"/>
<circle cx="240.0" cy="392.9" r="3.45"/>
<circle cx="287.5" cy="408.1" r="3.45"/>
<circle cx="263.9" cy="412.1" r="3.45"/>
<circle cx="311.1" cy="415.5" r="3.45"/>
<circle cx="320.6" cy="413.1" r="3.45"/>
<circle cx="334.8" cy="409.8" r="3.45"/>
<circle cx="344.2" cy="412.3" r="3.45"/>
<circle cx="349.2" cy="407.7" r="3.45"/>
<circle cx="354.0" cy="419.4" r="3.45"/>
<circle cx="315.9" cy="423.2" r="3.45"/>
<circle cx="320.6" cy="425.3" r="3.45"/>
<circle cx="334.8" cy="436.9" r="3.45"/>
<circle cx="254.5" cy="440.8" r="3.45"/>
<circle cx="263.9" cy="444.6" r="3.45"/>
<circle cx="339.5" cy="449.0" r="3.45"/>
<circle cx="354.0" cy="446.1" r="3.45"/>
<circle cx="311.1" cy="458.7" r="3.45"/>
<circle cx="159.6" cy="473.6" r="3.45"/>
<circle cx="301.6" cy="472.5" r="3.45"/>
<circle cx="320.2" cy="605.6" r="3.45"/>
<circle cx="325.2" cy="605.6" r="3.45"/>
<circle cx="334.9" cy="605.6" r="3.45"/>
<circle cx="540.8" cy="157.3" r="3.45"/>
<circle cx="540.8" cy="165.2" r="3.45"/>
<circle cx="521.8" cy="167.4" r="3.45"/>
<circle cx="479.3" cy="176.5" r="3.45"/>
<circle cx="498.2" cy="171.1" r="3.45"/>
<circle cx="493.2" cy="174.6" r="3.45"/>
<circle cx="493.2" cy="179.6" r="3.45"/>
<circle cx="427.1" cy="182.8" r="3.45"/>
<circle cx="436.5" cy="181.5" r="3.45"/>
<circle cx="441.2" cy="188.1" r="3.45"/>
<circle cx="431.5" cy="187.2" r="3.45"/>
<circle cx="432.3" cy="191.9" r="3.45"/>
<circle cx="427.1" cy="194.8" r="3.45"/>
<circle cx="460.8" cy="184.7" r="3.45"/>
<circle cx="465.1" cy="181.3" r="3.45"/>
<circle cx="465.1" cy="185.9" r="3.45"/>
<circle cx="465.1" cy="190.4" r="3.45"/>
<circle cx="493.2" cy="188.2" r="3.45"/>
<circle cx="526.6" cy="187.6" r="3.45"/>
<circle cx="536.0" cy="188.7" r="3.45"/>
<circle cx="516.8" cy="193.8" r="3.45"/>
<circle cx="531.2" cy="194.1" r="3.45"/>
<circle cx="531.2" cy="198.5" r="3.45"/>
<circle cx="521.8" cy="200.2" r="3.45"/>
<circle cx="526.6" cy="200.4" r="3.45"/>
<circle cx="526.6" cy="203.6" r="3.45"/>
<circle cx="531.2" cy="206.1" r="3.45"/>
<circle cx="540.8" cy="205.2" r="3.45"/>
<circle cx="441.5" cy="198.5" r="3.45"/>
<circle cx="446.2" cy="199.8" r="3.45"/>
<circle cx="451.0" cy="201.7" r="3.45"/>
<circle cx="455.7" cy="196.7" r="3.45"/>
<circle cx="460.4" cy="205.2" r="3.45"/>
<circle cx="432.1" cy="206.1" r="3.45"/>
<circle cx="436.5" cy="207.0" r="3.45"/>
<circle cx="441.2" cy="208.6" r="3.45"/>
<circle cx="441.2" cy="213.0" r="3.45"/>
<circle cx="441.2" cy="215.6" r="3.45"/>
<circle cx="450.4" cy="209.3" r="3.45"/>
<circle cx="450.4" cy="211.8" r="3.45"/>
<circle cx="455.4" cy="212.4" r="3.45"/>
<circle cx="460.4" cy="213.0" r="3.45"/>
<circle cx="469.9" cy="200.1" r="3.45"/>
<circle cx="474.9" cy="201.7" r="3.45"/>
<circle cx="479.3" cy="201.9" r="3.45"/>
<circle cx="484.0" cy="203.0" r="3.45"/>
<circle cx="474.3" cy="206.1" r="3.45"/>
<circle cx="474.3" cy="210.5" r="3.45"/>
<circle cx="474.3" cy="212.4" r="3.45"/>
<circle cx="474.3" cy="219.3" r="3.45"/>
<circle cx="490.0" cy="197.3" r="3.45"/>
<circle cx="493.8" cy="196.9" r="3.45"/>
<circle cx="498.2" cy="199.2" r="3.45"/>
<circle cx="502.6" cy="203.6" r="3.45"/>
<circle cx="507.7" cy="204.0" r="3.45"/>
<circle cx="502.6" cy="208.6" r="3.45"/>
<circle cx="493.2" cy="214.3" r="3.45"/>
<circle cx="502.6" cy="217.4" r="3.45"/>
<circle cx="507.7" cy="215.8" r="3.45"/>
<circle cx="516.8" cy="211.1" r="3.45"/>
<circle cx="536.0" cy="213.4" r="3.45"/>
<circle cx="432.1" cy="217.1" r="3.45"/>
<circle cx="429.6" cy="220.0" r="3.45"/>
<circle cx="427.1" cy="223.7" r="3.45"/>
<circle cx="446.2" cy="221.9" r="3.45"/>
<circle cx="441.5" cy="226.6" r="3.45"/>
<circle cx="446.2" cy="230.7" r="3.45"/>
<circle cx="451.0" cy="230.9" r="3.45"/>
<circle cx="455.7" cy="225.4" r="3.45"/>
<circle cx="465.1" cy="226.6" r="3.45"/>
<circle cx="493.2" cy="222.5" r="3.45"/>
<circle cx="512.1" cy="225.6" r="3.45"/>
<circle cx="512.1" cy="229.4" r="3.45"/>
<circle cx="516.8" cy="227.5" r="3.45"/>
<circle cx="531.2" cy="231.0" r="3.45"/>
<circle cx="536.0" cy="238.2" r="3.45"/>
<circle cx="441.2" cy="235.7" r="3.45"/>
<circle cx="451.0" cy="239.7" r="3.45"/>
<circle cx="474.3" cy="235.5" r="3.45"/>
<circle cx="484.0" cy="235.5" r="3.45"/>
<circle cx="479.3" cy="244.5" r="3.45"/>
<circle cx="502.6" cy="240.1" r="3.45"/>
<circle cx="498.2" cy="245.2" r="3.45"/>
<circle cx="498.2" cy="250.8" r="3.45"/>
<circle cx="498.2" cy="255.9" r="3.45"/>
<circle cx="502.6" cy="255.2" r="3.45"/>
<circle cx="507.7" cy="248.3" r="3.45"/>
<circle cx="512.5" cy="242.6" r="3.45"/>
<circle cx="464.9" cy="248.9" r="3.45"/>
<circle cx="469.6" cy="246.8" r="3.45"/>
<circle cx="469.6" cy="253.6" r="3.45"/>
<circle cx="451.0" cy="253.6" r="3.45"/>
<circle cx="474.7" cy="259.9" r="3.45"/>
<circle cx="469.6" cy="263.4" r="3.45"/>
<circle cx="526.6" cy="250.8" r="3.45"/>
<circle cx="531.2" cy="255.2" r="3.45"/>
<circle cx="531.2" cy="259.0" r="3.45"/>
<circle cx="488.8" cy="276.9" r="3.45"/>
<circle cx="479.3" cy="287.7" r="3.45"/>
<circle cx="493.4" cy="298.1" r="3.45"/>
<circle cx="507.7" cy="300.3" r="3.45"/>
<circle cx="550.0" cy="166.4" r="3.45"/>
<circle cx="550.0" cy="169.6" r="3.45"/>
<circle cx="559.7" cy="176.5" r="3.45"/>
<circle cx="545.3" cy="182.2" r="3.45"/>
<circle cx="545.3" cy="187.8" r="3.45"/>
<circle cx="555.0" cy="184.7" r="3.45"/>
<circle cx="564.2" cy="182.2" r="3.45"/>
<circle cx="564.2" cy="185.3" r="3.45"/>
<circle cx="564.2" cy="188.5" r="3.45"/>
<circle cx="573.9" cy="191.6" r="3.45"/>
<circle cx="555.0" cy="194.1" r="3.45"/>
<circle cx="555.0" cy="198.5" r="3.45"/>
<circle cx="555.0" cy="206.7" r="3.45"/>
<circle cx="545.3" cy="217.4" r="3.45"/>
<circle cx="545.3" cy="221.2" r="3.45"/>
<circle cx="545.3" cy="224.4" r="3.45"/>
<circle cx="550.0" cy="223.7" r="3.45"/>
<circle cx="555.0" cy="217.4" r="3.45"/>
<circle cx="564.5" cy="216.2" r="3.45"/>
<circle cx="573.9" cy="213.7" r="3.45"/>
<circle cx="583.4" cy="211.8" r="3.45"/>
<circle cx="592.8" cy="211.1" r="3.45"/>
<circle cx="569.3" cy="225.4" r="3.45"/>
<circle cx="545.3" cy="232.3" r="3.45"/>
<circle cx="569.3" cy="236.3" r="3.45"/>
<circle cx="559.5" cy="238.9" r="3.45"/>
<circle cx="554.4" cy="243.3" r="3.45"/>
<circle cx="550.0" cy="246.4" r="3.45"/>
<circle cx="545.3" cy="251.2" r="3.45"/>
<circle cx="564.5" cy="243.3" r="3.45"/>
<circle cx="559.5" cy="243.9" r="3.45"/>
<circle cx="564.5" cy="258.1" r="3.45"/>
<circle cx="573.9" cy="260.7" r="3.45"/>
<circle cx="559.7" cy="267.6" r="3.45"/>
<circle cx="569.3" cy="274.1" r="3.45"/>
<circle cx="583.4" cy="276.0" r="3.45"/>
<circle cx="592.8" cy="258.8" r="3.45"/>
<circle cx="588.1" cy="228.8" r="3.45"/>
<circle cx="588.1" cy="235.7" r="3.45"/>
<circle cx="588.1" cy="243.9" r="3.45"/>
<circle cx="592.8" cy="196.7" r="3.45"/>
<circle cx="597.9" cy="199.2" r="3.45"/>
<circle cx="597.9" cy="202.3" r="3.45"/>
<circle cx="611.7" cy="173.0" r="3.45"/>
<circle cx="616.4" cy="177.8" r="3.45"/>
<circle cx="630.6" cy="181.2" r="3.45"/>
<circle cx="645.1" cy="176.5" r="3.45"/>
<circle cx="654.6" cy="164.9" r="3.45"/>
<circle cx="611.7" cy="189.1" r="3.45"/>
<circle cx="611.7" cy="195.4" r="3.45"/>
<circle cx="616.1" cy="193.5" r="3.45"/>
<circle cx="621.2" cy="191.6" r="3.45"/>
<circle cx="626.0" cy="198.5" r="3.45"/>
<circle cx="630.6" cy="192.2" r="3.45"/>
<circle cx="635.0" cy="194.1" r="3.45"/>
<circle cx="640.1" cy="188.5" r="3.45"/>
<circle cx="645.1" cy="189.7" r="3.45"/>
<circle cx="640.1" cy="196.7" r="3.45"/>
<circle cx="641.3" cy="201.7" r="3.45"/>
<circle cx="645.1" cy="200.4" r="3.45"/>
<circle cx="645.1" cy="205.5" r="3.45"/>
<circle cx="641.3" cy="204.8" r="3.45"/>
<circle cx="659.4" cy="204.2" r="3.45"/>
<circle cx="659.4" cy="208.6" r="3.45"/>
<circle cx="611.7" cy="207.4" r="3.45"/>
<circle cx="606.7" cy="211.1" r="3.45"/>
<circle cx="611.7" cy="215.6" r="3.45"/>
<circle cx="616.1" cy="213.7" r="3.45"/>
<circle cx="621.2" cy="209.3" r="3.45"/>
<circle cx="626.0" cy="206.1" r="3.45"/>
<circle cx="630.6" cy="210.5" r="3.45"/>
<circle cx="630.6" cy="217.1" r="3.45"/>
<circle cx="645.1" cy="215.6" r="3.45"/>
<circle cx="602.0" cy="220.0" r="3.45"/>
<circle cx="606.7" cy="222.5" r="3.45"/>
<circle cx="611.7" cy="223.7" r="3.45"/>
<circle cx="616.8" cy="222.1" r="3.45"/>
<circle cx="621.2" cy="224.4" r="3.45"/>
<circle cx="611.7" cy="230.7" r="3.45"/>
<circle cx="616.1" cy="228.1" r="3.45"/>
<circle cx="616.1" cy="233.2" r="3.45"/>
<circle cx="621.2" cy="235.7" r="3.45"/>
<circle cx="626.0" cy="234.7" r="3.45"/>
<circle cx="640.1" cy="223.7" r="3.45"/>
<circle cx="630.6" cy="228.8" r="3.45"/>
<circle cx="635.7" cy="230.4" r="3.45"/>
<circle cx="654.6" cy="218.1" r="3.45"/>
<circle cx="654.6" cy="223.7" r="3.45"/>
<circle cx="659.4" cy="218.1" r="3.45"/>
<circle cx="659.4" cy="223.1" r="3.45"/>
<circle cx="659.4" cy="228.1" r="3.45"/>
<circle cx="659.4" cy="233.2" r="3.45"/>
<circle cx="659.4" cy="237.6" r="3.45"/>
<circle cx="602.0" cy="238.9" r="3.45"/>
<circle cx="606.7" cy="238.2" r="3.45"/>
<circle cx="621.2" cy="241.0" r="3.45"/>
<circle cx="630.6" cy="241.4" r="3.45"/>
<circle cx="640.1" cy="239.5" r="3.45"/>
<circle cx="645.1" cy="243.0" r="3.45"/>
<circle cx="606.7" cy="245.8" r="3.45"/>
<circle cx="611.7" cy="247.0" r="3.45"/>
<circle cx="616.1" cy="250.2" r="3.45"/>
<circle cx="616.1" cy="246.4" r="3.45"/>
<circle cx="659.4" cy="248.9" r="3.45"/>
<circle cx="630.6" cy="255.2" r="3.45"/>
<circle cx="630.6" cy="260.9" r="3.45"/>
<circle cx="626.2" cy="263.4" r="3.45"/>
<circle cx="621.2" cy="265.3" r="3.45"/>
<circle cx="616.1" cy="267.2" r="3.45"/>
<circle cx="621.2" cy="268.5" r="3.45"/>
<circle cx="640.1" cy="256.5" r="3.45"/>
<circle cx="659.4" cy="258.8" r="3.45"/>
<circle cx="607.1" cy="259.9" r="3.45"/>
<circle cx="607.1" cy="276.0" r="3.45"/>
<circle cx="645.1" cy="267.8" r="3.45"/>
<circle cx="649.5" cy="265.3" r="3.45"/>
<circle cx="645.1" cy="271.0" r="3.45"/>
<circle cx="654.6" cy="274.1" r="3.45"/>
<circle cx="659.4" cy="278.5" r="3.45"/>
<circle cx="621.2" cy="283.6" r="3.45"/>
<circle cx="626.2" cy="286.7" r="3.45"/>
<circle cx="630.6" cy="283.3" r="3.45"/>
<circle cx="659.4" cy="289.6" r="3.45"/>
<circle cx="649.5" cy="294.7" r="3.45"/>
<circle cx="625.9" cy="334.1" r="3.45"/>
<circle cx="789.9" cy="177.8" r="3.45"/>
<circle cx="804.0" cy="177.8" r="3.45"/>
<circle cx="813.5" cy="182.2" r="3.45"/>
<circle cx="841.8" cy="181.3" r="3.45"/>
<circle cx="784.9" cy="189.1" r="3.45"/>
<circle cx="784.9" cy="191.9" r="3.45"/>
<circle cx="775.7" cy="197.7" r="3.45"/>
<circle cx="789.9" cy="197.7" r="3.45"/>
<circle cx="799.4" cy="195.8" r="3.45"/>
<circle cx="813.5" cy="194.1" r="3.45"/>
<circle cx="841.8" cy="196.9" r="3.45"/>
<circle cx="794.3" cy="211.8" r="3.45"/>
<circle cx="780.1" cy="217.4" r="3.45"/>
<circle cx="808.7" cy="214.9" r="3.45"/>
<circle cx="822.7" cy="213.0" r="3.45"/>
<circle cx="827.7" cy="211.8" r="3.45"/>
<circle cx="832.4" cy="209.9" r="3.45"/>
<circle cx="837.2" cy="217.4" r="3.45"/>
<circle cx="846.6" cy="212.7" r="3.45"/>
<circle cx="865.5" cy="212.8" r="3.45"/>
<circle cx="874.6" cy="214.0" r="3.45"/>
<circle cx="879.6" cy="210.8" r="3.45"/>
<circle cx="884.7" cy="212.4" r="3.45"/>
<circle cx="889.1" cy="217.7" r="3.45"/>
<circle cx="860.7" cy="221.9" r="3.45"/>
<circle cx="879.6" cy="226.9" r="3.45"/>
<circle cx="889.1" cy="224.4" r="3.45"/>
<circle cx="799.4" cy="227.5" r="3.45"/>
<circle cx="813.1" cy="229.4" r="3.45"/>
<circle cx="813.1" cy="231.9" r="3.45"/>
<circle cx="817.9" cy="230.0" r="3.45"/>
<circle cx="822.9" cy="222.5" r="3.45"/>
<circle cx="822.9" cy="225.6" r="3.45"/>
<circle cx="822.9" cy="231.3" r="3.45"/>
<circle cx="832.4" cy="232.8" r="3.45"/>
<circle cx="841.8" cy="232.2" r="3.45"/>
<circle cx="789.9" cy="238.2" r="3.45"/>
<circle cx="804.0" cy="242.6" r="3.45"/>
<circle cx="851.5" cy="238.9" r="3.45"/>
<circle cx="851.5" cy="245.8" r="3.45"/>
<circle cx="851.5" cy="250.8" r="3.45"/>
<circle cx="846.9" cy="252.1" r="3.45"/>
<circle cx="841.8" cy="254.0" r="3.45"/>
<circle cx="836.8" cy="254.9" r="3.45"/>
<circle cx="870.2" cy="239.5" r="3.45"/>
<circle cx="874.6" cy="245.2" r="3.45"/>
<circle cx="879.6" cy="245.8" r="3.45"/>
<circle cx="884.7" cy="245.2" r="3.45"/>
<circle cx="884.7" cy="240.1" r="3.45"/>
<circle cx="889.1" cy="236.3" r="3.45"/>
<circle cx="794.3" cy="249.3" r="3.45"/>
<circle cx="799.4" cy="251.5" r="3.45"/>
<circle cx="804.0" cy="253.6" r="3.45"/>
<circle cx="822.9" cy="251.5" r="3.45"/>
<circle cx="827.7" cy="255.9" r="3.45"/>
<circle cx="780.1" cy="256.1" r="3.45"/>
<circle cx="799.4" cy="260.5" r="3.45"/>
<circle cx="865.5" cy="251.2" r="3.45"/>
<circle cx="875.2" cy="254.2" r="3.45"/>
<circle cx="870.6" cy="258.4" r="3.45"/>
<circle cx="860.7" cy="260.7" r="3.45"/>
<circle cx="860.7" cy="262.8" r="3.45"/>
<circle cx="775.7" cy="265.3" r="3.45"/>
<circle cx="780.1" cy="271.4" r="3.45"/>
<circle cx="818.1" cy="271.0" r="3.45"/>
<circle cx="818.1" cy="275.4" r="3.45"/>
<circle cx="775.7" cy="283.0" r="3.45"/>
<circle cx="780.1" cy="279.8" r="3.45"/>
<circle cx="780.1" cy="288.6" r="3.45"/>
<circle cx="789.9" cy="283.0" r="3.45"/>
<circle cx="799.4" cy="281.1" r="3.45"/>
<circle cx="808.7" cy="287.4" r="3.45"/>
<circle cx="789.9" cy="292.7" r="3.45"/>
<circle cx="813.5" cy="292.4" r="3.45"/>
<circle cx="813.5" cy="297.4" r="3.45"/>
<circle cx="813.5" cy="302.5" r="3.45"/>
<circle cx="822.9" cy="281.3" r="3.45"/>
<circle cx="827.7" cy="285.7" r="3.45"/>
<circle cx="822.9" cy="292.0" r="3.45"/>
<circle cx="841.8" cy="279.2" r="3.45"/>
<circle cx="846.9" cy="283.0" r="3.45"/>
<circle cx="851.5" cy="278.8" r="3.45"/>
<circle cx="856.3" cy="275.4" r="3.45"/>
<circle cx="851.5" cy="282.3" r="3.45"/>
<circle cx="856.3" cy="285.5" r="3.45"/>
<circle cx="846.6" cy="294.3" r="3.45"/>
<circle cx="875.2" cy="272.2" r="3.45"/>
<circle cx="875.2" cy="283.0" r="3.45"/>
<circle cx="879.9" cy="287.6" r="3.45"/>
<circle cx="894.0" cy="188.1" r="3.45"/>
<circle cx="908.2" cy="198.2" r="3.45"/>
<circle cx="894.0" cy="206.7" r="3.45"/>
<circle cx="894.0" cy="209.9" r="3.45"/>
<circle cx="908.2" cy="213.0" r="3.45"/>
<circle cx="912.9" cy="211.5" r="3.45"/>
<circle cx="912.9" cy="218.7" r="3.45"/>
<circle cx="899.0" cy="225.0" r="3.45"/>
<circle cx="904.0" cy="226.3" r="3.45"/>
<circle cx="904.0" cy="229.4" r="3.45"/>
<circle cx="894.0" cy="234.2" r="3.45"/>
<circle cx="899.0" cy="233.2" r="3.45"/>
<circle cx="899.0" cy="236.3" r="3.45"/>
<circle cx="899.0" cy="246.4" r="3.45"/>
<circle cx="903.7" cy="246.8" r="3.45"/>
<circle cx="894.0" cy="253.1" r="3.45"/>
<circle cx="912.9" cy="248.3" r="3.45"/>
<circle cx="917.9" cy="249.6" r="3.45"/>
<circle cx="922.3" cy="253.1" r="3.45"/>
<circle cx="932.1" cy="254.6" r="3.45"/>
<circle cx="936.8" cy="236.3" r="3.45"/>
<circle cx="936.8" cy="240.1" r="3.45"/>
<circle cx="941.5" cy="243.9" r="3.45"/>
<circle cx="946.3" cy="251.5" r="3.45"/>
<circle cx="941.5" cy="256.5" r="3.45"/>
<circle cx="951.0" cy="256.9" r="3.45"/>
<circle cx="960.4" cy="182.2" r="3.45"/>
<circle cx="993.5" cy="187.6" r="3.45"/>
<circle cx="1007.7" cy="195.1" r="3.45"/>
<circle cx="955.7" cy="201.7" r="3.45"/>
<circle cx="960.4" cy="201.4" r="3.45"/>
<circle cx="988.8" cy="206.7" r="3.45"/>
<circle cx="960.4" cy="217.8" r="3.45"/>
<circle cx="965.1" cy="223.7" r="3.45"/>
<circle cx="988.8" cy="219.7" r="3.45"/>
<circle cx="993.5" cy="224.4" r="3.45"/>
<circle cx="1002.9" cy="217.8" r="3.45"/>
<circle cx="1007.7" cy="217.4" r="3.45"/>
<circle cx="1007.7" cy="231.7" r="3.45"/>
<circle cx="1007.7" cy="235.5" r="3.45"/>
<circle cx="974.6" cy="233.8" r="3.45"/>
<circle cx="960.4" cy="238.9" r="3.45"/>
<circle cx="979.6" cy="240.1" r="3.45"/>
<circle cx="979.6" cy="242.6" r="3.45"/>
<circle cx="1007.7" cy="246.8" r="3.45"/>
<circle cx="960.4" cy="248.3" r="3.45"/>
<circle cx="960.4" cy="251.5" r="3.45"/>
<circle cx="965.1" cy="248.9" r="3.45"/>
<circle cx="969.9" cy="245.8" r="3.45"/>
<circle cx="969.9" cy="248.9" r="3.45"/>
<circle cx="965.1" cy="254.6" r="3.45"/>
<circle cx="965.1" cy="259.0" r="3.45"/>
<circle cx="960.4" cy="262.2" r="3.45"/>
<circle cx="960.4" cy="264.7" r="3.45"/>
<circle cx="965.1" cy="261.5" r="3.45"/>
<circle cx="974.6" cy="254.6" r="3.45"/>
<circle cx="979.6" cy="257.8" r="3.45"/>
<circle cx="979.6" cy="260.3" r="3.45"/>
<circle cx="988.8" cy="259.4" r="3.45"/>
<circle cx="1002.9" cy="254.6" r="3.45"/>
<circle cx="1007.7" cy="258.4" r="3.45"/>
<circle cx="993.5" cy="267.2" r="3.45"/>
<circle cx="993.5" cy="271.6" r="3.45"/>
<circle cx="993.5" cy="279.6" r="3.45"/>
<circle cx="965.1" cy="271.0" r="3.45"/>
<circle cx="969.9" cy="275.4" r="3.45"/>
<circle cx="894.0" cy="268.8" r="3.45"/>
<circle cx="903.4" cy="265.9" r="3.45"/>
<circle cx="908.2" cy="262.8" r="3.45"/>
<circle cx="912.9" cy="264.1" r="3.45"/>
<circle cx="922.3" cy="268.2" r="3.45"/>
<circle cx="894.0" cy="277.9" r="3.45"/>
<circle cx="903.4" cy="279.8" r="3.45"/>
<circle cx="908.2" cy="287.4" r="3.45"/>
<circle cx="912.9" cy="284.2" r="3.45"/>
<circle cx="912.9" cy="288.0" r="3.45"/>
<circle cx="903.4" cy="295.6" r="3.45"/>
<circle cx="960.4" cy="291.1" r="3.45"/>
<circle cx="965.1" cy="289.3" r="3.45"/>
<circle cx="974.6" cy="288.0" r="3.45"/>
<circle cx="979.6" cy="289.3" r="3.45"/>
<circle cx="984.0" cy="291.4" r="3.45"/>
<circle cx="1007.7" cy="284.2" r="3.45"/>
<circle cx="1007.7" cy="289.3" r="3.45"/>
<circle cx="1007.7" cy="294.9" r="3.45"/>
<circle cx="1007.7" cy="301.9" r="3.45"/>
<circle cx="946.3" cy="298.4" r="3.45"/>
<circle cx="955.7" cy="299.3" r="3.45"/>
<circle cx="969.9" cy="298.7" r="3.45"/>
<circle cx="979.6" cy="298.1" r="3.45"/>
<circle cx="984.0" cy="299.3" r="3.45"/>
<circle cx="993.5" cy="301.2" r="3.45"/>
<circle cx="932.1" cy="304.4" r="3.45"/>
<circle cx="941.5" cy="303.7" r="3.45"/>
<circle cx="955.7" cy="303.7" r="3.45"/>
<circle cx="974.6" cy="303.1" r="3.45"/>
<circle cx="993.5" cy="303.7" r="3.45"/>
<circle cx="780.3" cy="313.2" r="3.45"/>
<circle cx="794.6" cy="316.0" r="3.45"/>
<circle cx="789.9" cy="325.8" r="3.45"/>
<circle cx="808.7" cy="323.0" r="3.45"/>
<circle cx="841.8" cy="309.8" r="3.45"/>
<circle cx="846.6" cy="320.4" r="3.45"/>
<circle cx="841.8" cy="325.8" r="3.45"/>
<circle cx="789.9" cy="340.3" r="3.45"/>
<circle cx="799.4" cy="355.4" r="3.45"/>
<circle cx="827.7" cy="343.0" r="3.45"/>
<circle cx="856.1" cy="339.6" r="3.45"/>
<circle cx="865.5" cy="335.0" r="3.45"/>
<circle cx="879.6" cy="352.9" r="3.45"/>
<circle cx="879.6" cy="359.6" r="3.45"/>
<circle cx="856.1" cy="359.4" r="3.45"/>
<circle cx="827.7" cy="369.0" r="3.45"/>
<circle cx="813.5" cy="390.4" r="3.45"/>
<circle cx="908.2" cy="311.0" r="3.45"/>
<circle cx="955.7" cy="311.6" r="3.45"/>
<circle cx="974.6" cy="310.7" r="3.45"/>
<circle cx="998.2" cy="309.0" r="3.45"/>
<circle cx="1007.7" cy="313.8" r="3.45"/>
<circle cx="969.9" cy="316.1" r="3.45"/>
<circle cx="974.6" cy="318.9" r="3.45"/>
<circle cx="988.8" cy="318.0" r="3.45"/>
<circle cx="955.7" cy="322.9" r="3.45"/>
<circle cx="960.4" cy="322.9" r="3.45"/>
<circle cx="965.1" cy="326.7" r="3.45"/>
<circle cx="960.4" cy="331.2" r="3.45"/>
<circle cx="1007.7" cy="332.7" r="3.45"/>
<circle cx="965.1" cy="338.0" r="3.45"/>
<circle cx="969.9" cy="337.1" r="3.45"/>
<circle cx="979.3" cy="335.2" r="3.45"/>
<circle cx="984.0" cy="337.1" r="3.45"/>
<circle cx="965.1" cy="347.8" r="3.45"/>
<circle cx="894.0" cy="348.5" r="3.45"/>
<circle cx="917.9" cy="353.5" r="3.45"/>
<circle cx="936.8" cy="362.3" r="3.45"/>
<circle cx="941.5" cy="361.1" r="3.45"/>
<circle cx="951.0" cy="361.9" r="3.45"/>
<circle cx="960.4" cy="364.2" r="3.45"/>
<circle cx="960.4" cy="368.6" r="3.45"/>
<circle cx="993.5" cy="356.9" r="3.45"/>
<circle cx="1002.9" cy="357.9" r="3.45"/>
<circle cx="1007.7" cy="353.3" r="3.45"/>
<circle cx="1007.7" cy="366.5" r="3.45"/>
<circle cx="988.8" cy="373.0" r="3.45"/>
<circle cx="988.8" cy="376.2" r="3.45"/>
<circle cx="993.5" cy="373.7" r="3.45"/>
<circle cx="917.9" cy="384.1" r="3.45"/>
<circle cx="993.5" cy="393.8" r="3.45"/>
<circle cx="969.9" cy="397.0" r="3.45"/>
<circle cx="969.9" cy="400.1" r="3.45"/>
<circle cx="955.7" cy="405.2" r="3.45"/>
<circle cx="1002.9" cy="411.1" r="3.45"/>
<circle cx="998.2" cy="419.6" r="3.45"/>
<circle cx="965.1" cy="422.8" r="3.45"/>
<circle cx="965.1" cy="436.7" r="3.45"/>
<circle cx="974.6" cy="443.6" r="3.45"/>
<circle cx="979.3" cy="439.4" r="3.45"/>
<circle cx="988.8" cy="454.7" r="3.45"/>
<circle cx="969.6" cy="605.6" r="3.45"/>
<circle cx="1147.2" cy="170.2" r="3.45"/>
<circle cx="1094.9" cy="181.3" r="3.45"/>
<circle cx="1100.0" cy="178.4" r="3.45"/>
<circle cx="1109.4" cy="179.3" r="3.45"/>
<circle cx="1118.9" cy="182.8" r="3.45"/>
<circle cx="1090.5" cy="187.8" r="3.45"/>
<circle cx="1090.5" cy="191.0" r="3.45"/>
<circle cx="1085.5" cy="193.5" r="3.45"/>
<circle cx="1081.1" cy="196.4" r="3.45"/>
<circle cx="1104.4" cy="192.2" r="3.45"/>
<circle cx="1104.4" cy="195.4" r="3.45"/>
<circle cx="1109.4" cy="194.8" r="3.45"/>
<circle cx="1118.9" cy="193.5" r="3.45"/>
<circle cx="1085.5" cy="206.5" r="3.45"/>
<circle cx="1085.5" cy="209.9" r="3.45"/>
<circle cx="1094.9" cy="207.1" r="3.45"/>
<circle cx="1081.1" cy="214.3" r="3.45"/>
<circle cx="1081.1" cy="217.8" r="3.45"/>
<circle cx="1085.5" cy="220.0" r="3.45"/>
<circle cx="1085.5" cy="224.6" r="3.45"/>
<circle cx="1094.9" cy="213.0" r="3.45"/>
<circle cx="1100.0" cy="215.6" r="3.45"/>
<circle cx="1104.4" cy="218.1" r="3.45"/>
<circle cx="1104.4" cy="220.6" r="3.45"/>
<circle cx="1094.9" cy="220.3" r="3.45"/>
<circle cx="1100.0" cy="229.2" r="3.45"/>
<circle cx="1109.4" cy="207.0" r="3.45"/>
<circle cx="1113.8" cy="205.2" r="3.45"/>
<circle cx="1118.9" cy="205.2" r="3.45"/>
<circle cx="1113.8" cy="210.5" r="3.45"/>
<circle cx="1118.9" cy="214.9" r="3.45"/>
<circle cx="1123.6" cy="220.0" r="3.45"/>
<circle cx="1128.3" cy="200.7" r="3.45"/>
<circle cx="1133.3" cy="200.4" r="3.45"/>
<circle cx="1128.3" cy="207.4" r="3.45"/>
<circle cx="1142.8" cy="199.2" r="3.45"/>
<circle cx="1142.8" cy="203.0" r="3.45"/>
<circle cx="1147.2" cy="200.4" r="3.45"/>
<circle cx="1152.2" cy="196.0" r="3.45"/>
<circle cx="1156.6" cy="199.8" r="3.45"/>
<circle cx="1137.7" cy="213.7" r="3.45"/>
<circle cx="1132.7" cy="217.4" r="3.45"/>
<circle cx="1147.2" cy="220.3" r="3.45"/>
<circle cx="1147.2" cy="223.7" r="3.45"/>
<circle cx="1152.2" cy="218.7" r="3.45"/>
<circle cx="1161.4" cy="222.1" r="3.45"/>
<circle cx="1166.1" cy="219.1" r="3.45"/>
<circle cx="1118.9" cy="227.9" r="3.45"/>
<circle cx="1118.9" cy="230.7" r="3.45"/>
<circle cx="1128.3" cy="226.3" r="3.45"/>
<circle cx="1128.3" cy="229.2" r="3.45"/>
<circle cx="1137.7" cy="231.3" r="3.45"/>
<circle cx="1094.9" cy="240.1" r="3.45"/>
<circle cx="1094.9" cy="243.9" r="3.45"/>
<circle cx="1104.4" cy="248.1" r="3.45"/>
<circle cx="1118.9" cy="240.1" r="3.45"/>
<circle cx="1123.6" cy="245.8" r="3.45"/>
<circle cx="1156.6" cy="233.8" r="3.45"/>
<circle cx="1161.4" cy="233.8" r="3.45"/>
<circle cx="1161.4" cy="237.0" r="3.45"/>
<circle cx="1156.6" cy="238.2" r="3.45"/>
<circle cx="1147.2" cy="242.0" r="3.45"/>
<circle cx="1152.2" cy="242.6" r="3.45"/>
<circle cx="1156.6" cy="242.6" r="3.45"/>
<circle cx="1147.2" cy="249.6" r="3.45"/>
<circle cx="1161.4" cy="252.3" r="3.45"/>
<circle cx="1166.1" cy="248.1" r="3.45"/>
<circle cx="1166.1" cy="258.1" r="3.45"/>
<circle cx="1170.8" cy="232.6" r="3.45"/>
<circle cx="1175.5" cy="235.7" r="3.45"/>
<circle cx="1175.5" cy="240.1" r="3.45"/>
<circle cx="1180.6" cy="238.2" r="3.45"/>
<circle cx="1185.2" cy="239.7" r="3.45"/>
<circle cx="1180.6" cy="211.1" r="3.45"/>
<circle cx="1190.0" cy="215.8" r="3.45"/>
<circle cx="1194.4" cy="219.3" r="3.45"/>
<circle cx="1180.6" cy="226.3" r="3.45"/>
<circle cx="1185.2" cy="222.5" r="3.45"/>
<circle cx="1190.0" cy="231.7" r="3.45"/>
<circle cx="1193.2" cy="234.4" r="3.45"/>
<circle cx="1193.2" cy="238.9" r="3.45"/>
<circle cx="1185.2" cy="251.5" r="3.45"/>
<circle cx="1185.2" cy="254.0" r="3.45"/>
<circle cx="1180.6" cy="261.5" r="3.45"/>
<circle cx="1185.2" cy="262.8" r="3.45"/>
<circle cx="1190.0" cy="259.9" r="3.45"/>
<circle cx="1123.6" cy="258.1" r="3.45"/>
<circle cx="1133.0" cy="259.0" r="3.45"/>
<circle cx="1133.0" cy="263.4" r="3.45"/>
<circle cx="1128.3" cy="266.6" r="3.45"/>
<circle cx="1128.3" cy="272.9" r="3.45"/>
<circle cx="1118.9" cy="277.5" r="3.45"/>
<circle cx="1123.6" cy="277.9" r="3.45"/>
<circle cx="1151.6" cy="263.4" r="3.45"/>
<circle cx="1156.6" cy="262.8" r="3.45"/>
<circle cx="1170.8" cy="275.0" r="3.45"/>
<circle cx="1185.2" cy="292.7" r="3.45"/>
<circle cx="1199.5" cy="193.3" r="3.45"/>
<circle cx="1199.5" cy="209.3" r="3.45"/>
<circle cx="1199.5" cy="216.8" r="3.45"/>
<circle cx="1199.5" cy="225.6" r="3.45"/>
<circle cx="1204.4" cy="225.6" r="3.45"/>
<circle cx="1209.4" cy="226.3" r="3.45"/>
<circle cx="1213.8" cy="226.9" r="3.45"/>
<circle cx="1218.2" cy="224.4" r="3.45"/>
<circle cx="1199.5" cy="230.7" r="3.45"/>
<circle cx="1199.5" cy="235.1" r="3.45"/>
<circle cx="1204.4" cy="230.7" r="3.45"/>
<circle cx="1204.4" cy="235.1" r="3.45"/>
<circle cx="1208.8" cy="234.7" r="3.45"/>
<circle cx="1199.5" cy="238.9" r="3.45"/>
<circle cx="1204.4" cy="240.7" r="3.45"/>
<circle cx="1195.6" cy="238.2" r="3.45"/>
<circle cx="1218.2" cy="231.9" r="3.45"/>
<circle cx="1218.2" cy="238.9" r="3.45"/>
<circle cx="1228.1" cy="233.8" r="3.45"/>
<circle cx="1213.8" cy="250.2" r="3.45"/>
<circle cx="1218.2" cy="255.6" r="3.45"/>
<circle cx="1223.0" cy="249.3" r="3.45"/>
<circle cx="1213.8" cy="253.3" r="3.45"/>
<circle cx="1199.5" cy="261.5" r="3.45"/>
<circle cx="1208.8" cy="263.4" r="3.45"/>
<circle cx="1213.8" cy="260.7" r="3.45"/>
<circle cx="1208.8" cy="265.9" r="3.45"/>
<circle cx="1218.2" cy="268.5" r="3.45"/>
<circle cx="1228.1" cy="262.8" r="3.45"/>
<circle cx="1199.5" cy="274.1" r="3.45"/>
<circle cx="1213.8" cy="280.1" r="3.45"/>
<circle cx="1223.0" cy="276.7" r="3.45"/>
<circle cx="1228.1" cy="276.0" r="3.45"/>
<circle cx="1223.0" cy="282.1" r="3.45"/>
<circle cx="1237.1" cy="213.0" r="3.45"/>
<circle cx="1242.2" cy="243.3" r="3.45"/>
<circle cx="1246.6" cy="254.9" r="3.45"/>
<circle cx="1251.6" cy="259.9" r="3.45"/>
<circle cx="1256.0" cy="256.5" r="3.45"/>
<circle cx="1246.6" cy="267.5" r="3.45"/>
<circle cx="1237.1" cy="272.9" r="3.45"/>
<circle cx="1242.2" cy="274.8" r="3.45"/>
<circle cx="1246.6" cy="279.8" r="3.45"/>
<circle cx="1256.0" cy="274.1" r="3.45"/>
<circle cx="1261.1" cy="272.2" r="3.45"/>
<circle cx="1265.5" cy="272.9" r="3.45"/>
<circle cx="1260.8" cy="210.8" r="3.45"/>
<circle cx="1265.5" cy="193.5" r="3.45"/>
<circle cx="1265.5" cy="196.9" r="3.45"/>
<circle cx="1270.5" cy="225.0" r="3.45"/>
<circle cx="1279.7" cy="225.0" r="3.45"/>
<circle cx="1265.5" cy="229.4" r="3.45"/>
<circle cx="1260.8" cy="235.5" r="3.45"/>
<circle cx="1265.5" cy="235.1" r="3.45"/>
<circle cx="1274.9" cy="234.7" r="3.45"/>
<circle cx="1280.0" cy="238.2" r="3.45"/>
<circle cx="1285.0" cy="238.2" r="3.45"/>
<circle cx="1289.4" cy="240.7" r="3.45"/>
<circle cx="1294.5" cy="234.4" r="3.45"/>
<circle cx="1298.9" cy="232.2" r="3.45"/>
<circle cx="1270.5" cy="242.0" r="3.45"/>
<circle cx="1265.5" cy="245.2" r="3.45"/>
<circle cx="1298.9" cy="189.3" r="3.45"/>
<circle cx="1313.0" cy="203.6" r="3.45"/>
<circle cx="1293.8" cy="211.1" r="3.45"/>
<circle cx="1298.9" cy="210.9" r="3.45"/>
<circle cx="1313.0" cy="220.0" r="3.45"/>
<circle cx="1313.0" cy="221.9" r="3.45"/>
<circle cx="1308.3" cy="228.1" r="3.45"/>
<circle cx="1308.3" cy="236.6" r="3.45"/>
<circle cx="1313.0" cy="238.2" r="3.45"/>
<circle cx="1274.9" cy="245.8" r="3.45"/>
<circle cx="1280.0" cy="245.8" r="3.45"/>
<circle cx="1285.0" cy="245.8" r="3.45"/>
<circle cx="1285.0" cy="252.1" r="3.45"/>
<circle cx="1285.0" cy="256.5" r="3.45"/>
<circle cx="1281.2" cy="252.1" r="3.45"/>
<circle cx="1276.2" cy="250.2" r="3.45"/>
<circle cx="1294.5" cy="245.8" r="3.45"/>
<circle cx="1294.5" cy="250.8" r="3.45"/>
<circle cx="1298.9" cy="252.1" r="3.45"/>
<circle cx="1298.9" cy="257.1" r="3.45"/>
<circle cx="1265.5" cy="252.1" r="3.45"/>
<circle cx="1270.5" cy="252.1" r="3.45"/>
<circle cx="1274.9" cy="255.9" r="3.45"/>
<circle cx="1265.5" cy="257.8" r="3.45"/>
<circle cx="1270.5" cy="258.4" r="3.45"/>
<circle cx="1274.9" cy="260.3" r="3.45"/>
<circle cx="1261.1" cy="262.8" r="3.45"/>
<circle cx="1266.1" cy="262.8" r="3.45"/>
<circle cx="1270.5" cy="263.4" r="3.45"/>
<circle cx="1276.2" cy="264.7" r="3.45"/>
<circle cx="1281.2" cy="263.4" r="3.45"/>
<circle cx="1266.1" cy="267.8" r="3.45"/>
<circle cx="1271.1" cy="267.2" r="3.45"/>
<circle cx="1276.2" cy="268.5" r="3.45"/>
<circle cx="1280.0" cy="271.0" r="3.45"/>
<circle cx="1285.0" cy="272.9" r="3.45"/>
<circle cx="1313.0" cy="247.7" r="3.45"/>
<circle cx="1313.0" cy="252.1" r="3.45"/>
<circle cx="1313.0" cy="257.8" r="3.45"/>
<circle cx="1313.0" cy="261.5" r="3.45"/>
<circle cx="1313.0" cy="265.9" r="3.45"/>
<circle cx="1298.9" cy="274.1" r="3.45"/>
<circle cx="1303.9" cy="277.9" r="3.45"/>
<circle cx="1308.3" cy="274.1" r="3.45"/>
<circle cx="1313.0" cy="279.6" r="3.45"/>
<circle cx="1293.8" cy="280.8" r="3.45"/>
<circle cx="1298.9" cy="284.6" r="3.45"/>
<circle cx="1284.8" cy="282.3" r="3.45"/>
<circle cx="1284.8" cy="286.1" r="3.45"/>
<circle cx="1260.8" cy="285.5" r="3.45"/>
<circle cx="1270.5" cy="289.3" r="3.45"/>
<circle cx="1274.9" cy="288.0" r="3.45"/>
<circle cx="1280.0" cy="292.4" r="3.45"/>
<circle cx="1313.0" cy="289.9" r="3.45"/>
<circle cx="1293.8" cy="295.6" r="3.45"/>
<circle cx="1298.9" cy="293.7" r="3.45"/>
<circle cx="1298.9" cy="297.4" r="3.45"/>
<circle cx="1260.8" cy="301.2" r="3.45"/>
<circle cx="1289.4" cy="304.4" r="3.45"/>
<circle cx="1132.9" cy="310.4" r="3.45"/>
<circle cx="1246.6" cy="307.5" r="3.45"/>
<circle cx="1251.6" cy="312.9" r="3.45"/>
<circle cx="1260.9" cy="309.9" r="3.45"/>
<circle cx="1274.9" cy="309.0" r="3.45"/>
<circle cx="1279.9" cy="308.4" r="3.45"/>
<circle cx="1298.6" cy="313.1" r="3.45"/>
<circle cx="1303.6" cy="314.0" r="3.45"/>
<circle cx="1308.8" cy="312.0" r="3.45"/>
<circle cx="1270.4" cy="338.0" r="3.45"/>
<circle cx="1289.6" cy="341.4" r="3.45"/>
<circle cx="1218.4" cy="350.9" r="3.45"/>
<circle cx="100.3" cy="804.3" r="3.45"/>
<circle cx="100.3" cy="820.0" r="3.45"/>
<circle cx="100.3" cy="823.8" r="3.45"/>
<circle cx="100.3" cy="826.9" r="3.45"/>
<circle cx="100.3" cy="829.5" r="3.45"/>
<circle cx="100.3" cy="844.6" r="3.45"/>
<circle cx="111.6" cy="793.8" r="3.45"/>
<circle cx="111.6" cy="810.3" r="3.45"/>
<circle cx="111.6" cy="835.1" r="3.45"/>
<circle cx="111.6" cy="838.3" r="3.45"/>
<circle cx="111.6" cy="840.8" r="3.45"/>
<circle cx="111.6" cy="843.3" r="3.45"/>
<circle cx="111.6" cy="861.6" r="3.45"/>
<circle cx="111.6" cy="864.7" r="3.45"/>
<circle cx="111.6" cy="871.0" r="3.45"/>
<circle cx="111.6" cy="880.5" r="3.45"/>
<circle cx="122.9" cy="807.7" r="3.45"/>
<circle cx="122.9" cy="815.0" r="3.45"/>
<circle cx="122.9" cy="823.2" r="3.45"/>
<circle cx="122.9" cy="825.7" r="3.45"/>
<circle cx="122.9" cy="833.2" r="3.45"/>
<circle cx="122.9" cy="842.1" r="3.45"/>
<circle cx="122.9" cy="856.5" r="3.45"/>
<circle cx="122.9" cy="871.7" r="3.45"/>
<circle cx="134.7" cy="769.4" r="3.45"/>
<circle cx="134.7" cy="781.8" r="3.45"/>
<circle cx="134.7" cy="794.8" r="3.45"/>
<circle cx="134.7" cy="798.6" r="3.45"/>
<circle cx="134.7" cy="808.7" r="3.45"/>
<circle cx="134.7" cy="812.4" r="3.45"/>
<circle cx="134.7" cy="819.8" r="3.45"/>
<circle cx="134.7" cy="829.2" r="3.45"/>
<circle cx="134.7" cy="836.8" r="3.45"/>
<circle cx="146.0" cy="751.1" r="3.45"/>
<circle cx="146.0" cy="773.4" r="3.45"/>
<circle cx="146.0" cy="775.9" r="3.45"/>
<circle cx="146.0" cy="779.1" r="3.45"/>
<circle cx="146.0" cy="800.5" r="3.45"/>
<circle cx="146.0" cy="810.8" r="3.45"/>
<circle cx="146.0" cy="821.9" r="3.45"/>
<circle cx="146.0" cy="825.0" r="3.45"/>
<circle cx="146.0" cy="830.7" r="3.45"/>
<circle cx="146.0" cy="840.2" r="3.45"/>
<circle cx="157.6" cy="767.1" r="3.45"/>
<circle cx="157.6" cy="770.9" r="3.45"/>
<circle cx="157.6" cy="774.0" r="3.45"/>
<circle cx="157.6" cy="781.0" r="3.45"/>
<circle cx="157.6" cy="784.1" r="3.45"/>
<circle cx="157.6" cy="786.6" r="3.45"/>
<circle cx="157.6" cy="798.0" r="3.45"/>
<circle cx="157.6" cy="799.9" r="3.45"/>
<circle cx="157.6" cy="807.4" r="3.45"/>
<circle cx="157.6" cy="820.0" r="3.45"/>
<circle cx="168.9" cy="816.9" r="3.45"/>
<circle cx="168.9" cy="821.9" r="3.45"/>
<circle cx="168.9" cy="829.5" r="3.45"/>
<circle cx="168.9" cy="832.6" r="3.45"/>
<circle cx="168.9" cy="846.8" r="3.45"/>
<circle cx="168.9" cy="859.1" r="3.45"/>
<circle cx="168.9" cy="879.2" r="3.45"/>
<circle cx="180.3" cy="760.8" r="3.45"/>
<circle cx="180.3" cy="765.8" r="3.45"/>
<circle cx="180.3" cy="769.0" r="3.45"/>
<circle cx="180.3" cy="781.8" r="3.45"/>
<circle cx="180.3" cy="789.4" r="3.45"/>
<circle cx="180.3" cy="795.8" r="3.45"/>
<circle cx="191.9" cy="740.6" r="3.45"/>
<circle cx="191.9" cy="764.2" r="3.45"/>
<circle cx="191.9" cy="775.3" r="3.45"/>
<circle cx="191.9" cy="781.6" r="3.45"/>
<circle cx="191.9" cy="785.0" r="3.45"/>
<circle cx="191.9" cy="804.9" r="3.45"/>
<circle cx="191.9" cy="816.5" r="3.45"/>
<circle cx="191.9" cy="838.3" r="3.45"/>
<circle cx="191.9" cy="840.8" r="3.45"/>
<circle cx="203.2" cy="780.3" r="3.45"/>
<circle cx="203.2" cy="789.4" r="3.45"/>
<circle cx="203.2" cy="797.6" r="3.45"/>
<circle cx="203.2" cy="803.6" r="3.45"/>
<circle cx="203.2" cy="806.8" r="3.45"/>
<circle cx="203.2" cy="809.9" r="3.45"/>
<circle cx="203.2" cy="812.4" r="3.45"/>
<circle cx="203.2" cy="819.0" r="3.45"/>
<circle cx="203.2" cy="834.5" r="3.45"/>
<circle cx="237.8" cy="879.6" r="3.45"/>
<circle cx="283.2" cy="828.8" r="3.45"/>
<circle cx="283.2" cy="871.0" r="3.45"/>
<circle cx="283.2" cy="876.7" r="3.45"/>
<circle cx="283.2" cy="880.5" r="3.45"/>
<circle cx="271.8" cy="881.1" r="3.45"/>
<circle cx="306.1" cy="766.8" r="3.45"/>
<circle cx="306.1" cy="771.5" r="3.45"/>
<circle cx="306.1" cy="774.7" r="3.45"/>
<circle cx="306.1" cy="777.2" r="3.45"/>
<circle cx="306.1" cy="782.0" r="3.45"/>
<circle cx="306.1" cy="797.3" r="3.45"/>
<circle cx="306.1" cy="800.1" r="3.45"/>
<circle cx="306.1" cy="808.9" r="3.45"/>
<circle cx="306.1" cy="819.4" r="3.45"/>
<circle cx="306.1" cy="822.5" r="3.45"/>
<circle cx="306.1" cy="830.1" r="3.45"/>
<circle cx="317.7" cy="757.6" r="3.45"/>
<circle cx="317.7" cy="760.8" r="3.45"/>
<circle cx="317.7" cy="763.9" r="3.45"/>
<circle cx="317.7" cy="774.9" r="3.45"/>
<circle cx="317.7" cy="782.0" r="3.45"/>
<circle cx="317.7" cy="792.0" r="3.45"/>
<circle cx="317.7" cy="799.9" r="3.45"/>
<circle cx="317.7" cy="803.0" r="3.45"/>
<circle cx="317.7" cy="809.9" r="3.45"/>
<circle cx="317.7" cy="813.1" r="3.45"/>
<circle cx="317.7" cy="821.3" r="3.45"/>
<circle cx="317.7" cy="842.1" r="3.45"/>
<circle cx="317.7" cy="846.5" r="3.45"/>
<circle cx="329.4" cy="752.2" r="3.45"/>
<circle cx="329.4" cy="767.1" r="3.45"/>
<circle cx="329.4" cy="774.7" r="3.45"/>
<circle cx="329.4" cy="785.4" r="3.45"/>
<circle cx="329.4" cy="788.5" r="3.45"/>
<circle cx="329.4" cy="791.0" r="3.45"/>
<circle cx="329.4" cy="801.7" r="3.45"/>
<circle cx="329.4" cy="804.9" r="3.45"/>
<circle cx="329.4" cy="807.7" r="3.45"/>
<circle cx="340.5" cy="752.0" r="3.45"/>
<circle cx="340.5" cy="755.8" r="3.45"/>
<circle cx="340.5" cy="765.8" r="3.45"/>
<circle cx="340.5" cy="769.0" r="3.45"/>
<circle cx="340.5" cy="772.1" r="3.45"/>
<circle cx="340.5" cy="775.3" r="3.45"/>
<circle cx="340.5" cy="782.5" r="3.45"/>
<circle cx="340.5" cy="811.2" r="3.45"/>
<circle cx="340.5" cy="821.3" r="3.45"/>
<circle cx="111.6" cy="884.3" r="3.45"/>
<circle cx="111.6" cy="925.0" r="3.45"/>
<circle cx="122.9" cy="884.3" r="3.45"/>
<circle cx="168.9" cy="885.3" r="3.45"/>
<circle cx="168.9" cy="892.1" r="3.45"/>
<circle cx="168.9" cy="902.1" r="3.45"/>
<circle cx="214.5" cy="901.5" r="3.45"/>
<circle cx="214.5" cy="915.4" r="3.45"/>
<circle cx="214.5" cy="921.4" r="3.45"/>
<circle cx="214.5" cy="925.8" r="3.45"/>
<circle cx="214.5" cy="934.0" r="3.45"/>
<circle cx="214.5" cy="938.4" r="3.45"/>
<circle cx="214.5" cy="950.0" r="3.45"/>
<circle cx="214.5" cy="971.6" r="3.45"/>
<circle cx="226.0" cy="935.3" r="3.45"/>
<circle cx="226.0" cy="939.7" r="3.45"/>
<circle cx="226.0" cy="954.2" r="3.45"/>
<circle cx="226.0" cy="967.4" r="3.45"/>
<circle cx="226.0" cy="980.4" r="3.45"/>
<circle cx="226.0" cy="990.1" r="3.45"/>
<circle cx="226.0" cy="993.9" r="3.45"/>
<circle cx="226.0" cy="997.6" r="3.45"/>
<circle cx="226.0" cy="1018.4" r="3.45"/>
<circle cx="226.0" cy="1022.2" r="3.45"/>
<circle cx="237.6" cy="890.6" r="3.45"/>
<circle cx="237.6" cy="893.1" r="3.45"/>
<circle cx="237.6" cy="904.4" r="3.45"/>
<circle cx="237.6" cy="910.7" r="3.45"/>
<circle cx="237.6" cy="914.5" r="3.45"/>
<circle cx="237.6" cy="918.3" r="3.45"/>
<circle cx="237.6" cy="921.4" r="3.45"/>
<circle cx="237.6" cy="936.8" r="3.45"/>
<circle cx="237.6" cy="962.4" r="3.45"/>
<circle cx="237.6" cy="991.1" r="3.45"/>
<circle cx="237.6" cy="1003.6" r="3.45"/>
<circle cx="249.0" cy="910.1" r="3.45"/>
<circle cx="249.0" cy="931.5" r="3.45"/>
<circle cx="249.0" cy="946.0" r="3.45"/>
<circle cx="249.0" cy="951.0" r="3.45"/>
<circle cx="249.0" cy="954.8" r="3.45"/>
<circle cx="249.0" cy="964.9" r="3.45"/>
<circle cx="249.0" cy="975.6" r="3.45"/>
<circle cx="249.0" cy="978.7" r="3.45"/>
<circle cx="249.0" cy="1024.1" r="3.45"/>
<circle cx="260.5" cy="907.6" r="3.45"/>
<circle cx="260.5" cy="972.4" r="3.45"/>
<circle cx="260.5" cy="983.8" r="3.45"/>
<circle cx="260.5" cy="987.6" r="3.45"/>
<circle cx="260.5" cy="991.3" r="3.45"/>
<circle cx="260.5" cy="994.5" r="3.45"/>
<circle cx="260.5" cy="1000.2" r="3.45"/>
<circle cx="260.5" cy="1003.9" r="3.45"/>
<circle cx="260.5" cy="1006.5" r="3.45"/>
<circle cx="260.5" cy="1027.0" r="3.45"/>
<circle cx="260.5" cy="1036.7" r="3.45"/>
<circle cx="271.8" cy="894.7" r="3.45"/>
<circle cx="271.8" cy="906.3" r="3.45"/>
<circle cx="271.8" cy="915.1" r="3.45"/>
<circle cx="271.8" cy="917.6" r="3.45"/>
<circle cx="271.8" cy="923.3" r="3.45"/>
<circle cx="271.8" cy="929.6" r="3.45"/>
<circle cx="271.8" cy="947.5" r="3.45"/>
<circle cx="271.8" cy="964.9" r="3.45"/>
<circle cx="271.8" cy="969.9" r="3.45"/>
<circle cx="271.8" cy="975.6" r="3.45"/>
<circle cx="283.2" cy="905.0" r="3.45"/>
<circle cx="283.2" cy="910.7" r="3.45"/>
<circle cx="283.2" cy="913.9" r="3.45"/>
<circle cx="283.2" cy="923.9" r="3.45"/>
<circle cx="283.2" cy="934.7" r="3.45"/>
<circle cx="283.2" cy="939.1" r="3.45"/>
<circle cx="283.2" cy="941.0" r="3.45"/>
<circle cx="283.2" cy="983.2" r="3.45"/>
<circle cx="294.8" cy="896.9" r="3.45"/>
<circle cx="294.8" cy="920.2" r="3.45"/>
<circle cx="294.8" cy="925.2" r="3.45"/>
<circle cx="294.8" cy="939.7" r="3.45"/>
<circle cx="294.8" cy="952.9" r="3.45"/>
<circle cx="294.8" cy="960.5" r="3.45"/>
<circle cx="294.8" cy="969.9" r="3.45"/>
<circle cx="294.8" cy="973.7" r="3.45"/>
<circle cx="294.8" cy="977.5" r="3.45"/>
<circle cx="294.8" cy="985.7" r="3.45"/>
<circle cx="294.8" cy="1036.7" r="3.45"/>
<circle cx="352.1" cy="903.4" r="3.45"/>
<circle cx="352.1" cy="917.9" r="3.45"/>
<circle cx="352.1" cy="942.8" r="3.45"/>
<circle cx="352.1" cy="946.0" r="3.45"/>
<circle cx="352.1" cy="949.8" r="3.45"/>
<circle cx="352.1" cy="962.4" r="3.45"/>
<circle cx="352.1" cy="966.1" r="3.45"/>
<circle cx="352.1" cy="971.2" r="3.45"/>
<circle cx="352.1" cy="973.1" r="3.45"/>
<circle cx="352.1" cy="985.7" r="3.45"/>
<circle cx="363.4" cy="898.5" r="3.45"/>
<circle cx="363.4" cy="966.8" r="3.45"/>
<circle cx="363.4" cy="980.0" r="3.45"/>
<circle cx="363.4" cy="995.1" r="3.45"/>
<circle cx="363.4" cy="1003.9" r="3.45"/>
<circle cx="363.4" cy="1014.7" r="3.45"/>
<circle cx="351.9" cy="1050.4" r="3.45"/>
<circle cx="363.7" cy="1051.8" r="3.45"/>
<circle cx="260.5" cy="1183.4" r="3.45"/>
<circle cx="363.7" cy="1183.4" r="3.45"/>
<circle cx="405.6" cy="775.3" r="3.45"/>
<circle cx="405.6" cy="788.5" r="3.45"/>
<circle cx="405.6" cy="791.7" r="3.45"/>
<circle cx="405.6" cy="794.8" r="3.45"/>
<circle cx="405.6" cy="797.3" r="3.45"/>
<circle cx="405.6" cy="801.1" r="3.45"/>
<circle cx="405.6" cy="804.3" r="3.45"/>
<circle cx="405.6" cy="814.0" r="3.45"/>
<circle cx="417.0" cy="780.7" r="3.45"/>
<circle cx="417.0" cy="802.4" r="3.45"/>
<circle cx="417.0" cy="815.6" r="3.45"/>
<circle cx="417.0" cy="818.7" r="3.45"/>
<circle cx="417.0" cy="821.9" r="3.45"/>
<circle cx="417.0" cy="825.0" r="3.45"/>
<circle cx="417.0" cy="828.2" r="3.45"/>
<circle cx="417.0" cy="831.3" r="3.45"/>
<circle cx="417.0" cy="837.6" r="3.45"/>
<circle cx="417.0" cy="865.4" r="3.45"/>
<circle cx="428.3" cy="781.6" r="3.45"/>
<circle cx="428.3" cy="786.0" r="3.45"/>
<circle cx="428.3" cy="794.8" r="3.45"/>
<circle cx="428.3" cy="801.7" r="3.45"/>
<circle cx="428.3" cy="804.3" r="3.45"/>
<circle cx="428.3" cy="813.5" r="3.45"/>
<circle cx="428.3" cy="820.6" r="3.45"/>
<circle cx="428.3" cy="823.8" r="3.45"/>
<circle cx="428.3" cy="826.9" r="3.45"/>
<circle cx="428.3" cy="830.1" r="3.45"/>
<circle cx="428.3" cy="833.9" r="3.45"/>
<circle cx="428.3" cy="841.4" r="3.45"/>
<circle cx="439.9" cy="770.5" r="3.45"/>
<circle cx="439.9" cy="783.5" r="3.45"/>
<circle cx="439.9" cy="797.3" r="3.45"/>
<circle cx="439.9" cy="799.9" r="3.45"/>
<circle cx="439.9" cy="809.9" r="3.45"/>
<circle cx="439.9" cy="813.7" r="3.45"/>
<circle cx="439.9" cy="821.9" r="3.45"/>
<circle cx="439.9" cy="831.6" r="3.45"/>
<circle cx="439.9" cy="838.7" r="3.45"/>
<circle cx="451.4" cy="751.3" r="3.45"/>
<circle cx="451.4" cy="772.1" r="3.45"/>
<circle cx="451.4" cy="774.7" r="3.45"/>
<circle cx="451.4" cy="780.3" r="3.45"/>
<circle cx="451.4" cy="800.5" r="3.45"/>
<circle cx="451.4" cy="809.0" r="3.45"/>
<circle cx="451.4" cy="820.6" r="3.45"/>
<circle cx="451.4" cy="823.8" r="3.45"/>
<circle cx="451.4" cy="828.2" r="3.45"/>
<circle cx="451.4" cy="839.2" r="3.45"/>
<circle cx="463.0" cy="769.6" r="3.45"/>
<circle cx="463.0" cy="775.3" r="3.45"/>
<circle cx="463.0" cy="777.8" r="3.45"/>
<circle cx="463.0" cy="783.5" r="3.45"/>
<circle cx="463.0" cy="786.0" r="3.45"/>
<circle cx="463.0" cy="788.5" r="3.45"/>
<circle cx="463.0" cy="798.6" r="3.45"/>
<circle cx="463.0" cy="802.4" r="3.45"/>
<circle cx="463.0" cy="811.2" r="3.45"/>
<circle cx="463.0" cy="824.2" r="3.45"/>
<circle cx="474.3" cy="759.5" r="3.45"/>
<circle cx="474.3" cy="767.7" r="3.45"/>
<circle cx="474.3" cy="770.2" r="3.45"/>
<circle cx="474.3" cy="783.1" r="3.45"/>
<circle cx="474.3" cy="791.0" r="3.45"/>
<circle cx="474.3" cy="794.8" r="3.45"/>
<circle cx="474.3" cy="808.0" r="3.45"/>
<circle cx="474.3" cy="815.0" r="3.45"/>
<circle cx="474.3" cy="843.6" r="3.45"/>
<circle cx="474.3" cy="854.0" r="3.45"/>
<circle cx="485.6" cy="759.5" r="3.45"/>
<circle cx="485.6" cy="762.7" r="3.45"/>
<circle cx="485.6" cy="765.8" r="3.45"/>
<circle cx="485.6" cy="768.4" r="3.45"/>
<circle cx="485.6" cy="774.7" r="3.45"/>
<circle cx="485.6" cy="785.4" r="3.45"/>
<circle cx="485.6" cy="789.1" r="3.45"/>
<circle cx="497.2" cy="742.9" r="3.45"/>
<circle cx="497.2" cy="766.1" r="3.45"/>
<circle cx="497.2" cy="775.9" r="3.45"/>
<circle cx="497.2" cy="781.0" r="3.45"/>
<circle cx="497.2" cy="784.7" r="3.45"/>
<circle cx="497.2" cy="801.1" r="3.45"/>
<circle cx="497.2" cy="804.9" r="3.45"/>
<circle cx="497.2" cy="808.7" r="3.45"/>
<circle cx="497.2" cy="836.4" r="3.45"/>
<circle cx="497.2" cy="841.4" r="3.45"/>
<circle cx="508.6" cy="766.5" r="3.45"/>
<circle cx="508.6" cy="770.2" r="3.45"/>
<circle cx="508.6" cy="779.1" r="3.45"/>
<circle cx="508.6" cy="782.2" r="3.45"/>
<circle cx="508.6" cy="785.4" r="3.45"/>
<circle cx="508.6" cy="788.5" r="3.45"/>
<circle cx="508.6" cy="801.7" r="3.45"/>
<circle cx="508.6" cy="819.1" r="3.45"/>
<circle cx="520.0" cy="764.6" r="3.45"/>
<circle cx="520.0" cy="777.8" r="3.45"/>
<circle cx="520.0" cy="782.8" r="3.45"/>
<circle cx="520.0" cy="786.0" r="3.45"/>
<circle cx="520.0" cy="789.1" r="3.45"/>
<circle cx="520.0" cy="797.3" r="3.45"/>
<circle cx="520.0" cy="801.1" r="3.45"/>
<circle cx="520.0" cy="817.5" r="3.45"/>
<circle cx="520.0" cy="826.6" r="3.45"/>
<circle cx="520.0" cy="854.7" r="3.45"/>
<circle cx="531.4" cy="777.2" r="3.45"/>
<circle cx="531.4" cy="789.1" r="3.45"/>
<circle cx="531.4" cy="792.3" r="3.45"/>
<circle cx="531.4" cy="799.9" r="3.45"/>
<circle cx="531.4" cy="801.7" r="3.45"/>
<circle cx="531.4" cy="814.6" r="3.45"/>
<circle cx="531.4" cy="826.3" r="3.45"/>
<circle cx="531.4" cy="845.2" r="3.45"/>
<circle cx="531.4" cy="852.1" r="3.45"/>
<circle cx="542.8" cy="776.5" r="3.45"/>
<circle cx="542.8" cy="779.1" r="3.45"/>
<circle cx="542.8" cy="795.1" r="3.45"/>
<circle cx="542.8" cy="806.1" r="3.45"/>
<circle cx="542.8" cy="809.9" r="3.45"/>
<circle cx="542.8" cy="812.4" r="3.45"/>
<circle cx="542.8" cy="833.2" r="3.45"/>
<circle cx="542.8" cy="848.7" r="3.45"/>
<circle cx="542.8" cy="865.0" r="3.45"/>
<circle cx="554.4" cy="781.6" r="3.45"/>
<circle cx="554.4" cy="789.8" r="3.45"/>
<circle cx="554.4" cy="792.9" r="3.45"/>
<circle cx="554.4" cy="801.4" r="3.45"/>
<circle cx="554.4" cy="808.7" r="3.45"/>
<circle cx="554.4" cy="811.8" r="3.45"/>
<circle cx="554.4" cy="815.0" r="3.45"/>
<circle cx="554.4" cy="845.0" r="3.45"/>
<circle cx="554.4" cy="856.5" r="3.45"/>
<circle cx="565.8" cy="766.2" r="3.45"/>
<circle cx="565.8" cy="804.9" r="3.45"/>
<circle cx="565.8" cy="809.9" r="3.45"/>
<circle cx="565.8" cy="816.9" r="3.45"/>
<circle cx="565.8" cy="820.6" r="3.45"/>
<circle cx="565.8" cy="846.2" r="3.45"/>
<circle cx="565.8" cy="861.6" r="3.45"/>
<circle cx="565.8" cy="872.3" r="3.45"/>
<circle cx="565.8" cy="878.6" r="3.45"/>
<circle cx="577.1" cy="760.2" r="3.45"/>
<circle cx="577.1" cy="772.1" r="3.45"/>
<circle cx="577.1" cy="777.2" r="3.45"/>
<circle cx="577.1" cy="781.6" r="3.45"/>
<circle cx="577.1" cy="792.9" r="3.45"/>
<circle cx="577.1" cy="796.1" r="3.45"/>
<circle cx="577.1" cy="803.0" r="3.45"/>
<circle cx="577.1" cy="813.7" r="3.45"/>
<circle cx="577.1" cy="823.2" r="3.45"/>
<circle cx="577.1" cy="828.8" r="3.45"/>
<circle cx="588.7" cy="755.5" r="3.45"/>
<circle cx="588.7" cy="772.1" r="3.45"/>
<circle cx="588.7" cy="774.7" r="3.45"/>
<circle cx="588.7" cy="783.7" r="3.45"/>
<circle cx="588.7" cy="801.7" r="3.45"/>
<circle cx="588.7" cy="804.9" r="3.45"/>
<circle cx="588.7" cy="808.7" r="3.45"/>
<circle cx="588.7" cy="815.0" r="3.45"/>
<circle cx="588.7" cy="844.2" r="3.45"/>
<circle cx="600.4" cy="781.6" r="3.45"/>
<circle cx="600.4" cy="784.7" r="3.45"/>
<circle cx="600.4" cy="791.7" r="3.45"/>
<circle cx="600.4" cy="794.2" r="3.45"/>
<circle cx="600.4" cy="802.1" r="3.45"/>
<circle cx="600.4" cy="810.6" r="3.45"/>
<circle cx="600.4" cy="818.1" r="3.45"/>
<circle cx="600.4" cy="832.6" r="3.45"/>
<circle cx="600.4" cy="836.4" r="3.45"/>
<circle cx="600.4" cy="876.1" r="3.45"/>
<circle cx="611.7" cy="763.3" r="3.45"/>
<circle cx="611.7" cy="766.5" r="3.45"/>
<circle cx="611.7" cy="771.5" r="3.45"/>
<circle cx="611.7" cy="777.2" r="3.45"/>
<circle cx="611.7" cy="783.5" r="3.45"/>
<circle cx="611.7" cy="791.0" r="3.45"/>
<circle cx="611.7" cy="799.0" r="3.45"/>
<circle cx="611.7" cy="803.6" r="3.45"/>
<circle cx="611.7" cy="807.4" r="3.45"/>
<circle cx="611.7" cy="817.5" r="3.45"/>
<circle cx="611.7" cy="821.3" r="3.45"/>
<circle cx="623.1" cy="748.8" r="3.45"/>
<circle cx="623.1" cy="753.2" r="3.45"/>
<circle cx="623.1" cy="759.5" r="3.45"/>
<circle cx="623.1" cy="764.6" r="3.45"/>
<circle cx="623.1" cy="775.9" r="3.45"/>
<circle cx="623.1" cy="778.4" r="3.45"/>
<circle cx="623.1" cy="789.8" r="3.45"/>
<circle cx="623.1" cy="798.3" r="3.45"/>
<circle cx="623.1" cy="807.2" r="3.45"/>
<circle cx="623.1" cy="822.9" r="3.45"/>
<circle cx="623.1" cy="833.2" r="3.45"/>
<circle cx="634.4" cy="735.2" r="3.45"/>
<circle cx="634.4" cy="747.6" r="3.45"/>
<circle cx="634.4" cy="754.5" r="3.45"/>
<circle cx="634.4" cy="765.8" r="3.45"/>
<circle cx="634.4" cy="771.5" r="3.45"/>
<circle cx="634.4" cy="779.1" r="3.45"/>
<circle cx="634.4" cy="836.1" r="3.45"/>
<circle cx="646.0" cy="742.9" r="3.45"/>
<circle cx="646.0" cy="745.7" r="3.45"/>
<circle cx="646.0" cy="757.0" r="3.45"/>
<circle cx="646.0" cy="760.8" r="3.45"/>
<circle cx="646.0" cy="764.6" r="3.45"/>
<circle cx="646.0" cy="772.1" r="3.45"/>
<circle cx="646.0" cy="775.9" r="3.45"/>
<circle cx="646.0" cy="795.4" r="3.45"/>
<circle cx="657.5" cy="788.5" r="3.45"/>
<circle cx="657.5" cy="793.6" r="3.45"/>
<circle cx="657.5" cy="796.7" r="3.45"/>
<circle cx="657.5" cy="799.9" r="3.45"/>
<circle cx="657.5" cy="806.8" r="3.45"/>
<circle cx="657.5" cy="817.2" r="3.45"/>
<circle cx="657.5" cy="826.6" r="3.45"/>
<circle cx="657.5" cy="836.8" r="3.45"/>
<circle cx="657.5" cy="851.5" r="3.45"/>
<circle cx="657.5" cy="854.0" r="3.45"/>
<circle cx="657.5" cy="867.5" r="3.45"/>
<circle cx="668.8" cy="759.2" r="3.45"/>
<circle cx="668.8" cy="774.4" r="3.45"/>
<circle cx="668.8" cy="779.7" r="3.45"/>
<circle cx="668.8" cy="786.0" r="3.45"/>
<circle cx="668.8" cy="789.8" r="3.45"/>
<circle cx="668.8" cy="804.3" r="3.45"/>
<circle cx="668.8" cy="827.6" r="3.45"/>
<circle cx="668.8" cy="834.5" r="3.45"/>
<circle cx="668.8" cy="861.2" r="3.45"/>
<circle cx="565.9" cy="912.1" r="3.45"/>
<circle cx="754.3" cy="808.7" r="3.45"/>
<circle cx="754.3" cy="815.6" r="3.45"/>
<circle cx="754.3" cy="818.7" r="3.45"/>
<circle cx="754.3" cy="826.9" r="3.45"/>
<circle cx="754.3" cy="831.3" r="3.45"/>
<circle cx="754.3" cy="857.6" r="3.45"/>
<circle cx="754.3" cy="881.5" r="3.45"/>
<circle cx="765.6" cy="788.1" r="3.45"/>
<circle cx="765.6" cy="803.6" r="3.45"/>
<circle cx="765.6" cy="818.1" r="3.45"/>
<circle cx="765.6" cy="824.4" r="3.45"/>
<circle cx="765.6" cy="838.3" r="3.45"/>
<circle cx="765.6" cy="843.9" r="3.45"/>
<circle cx="765.6" cy="850.2" r="3.45"/>
<circle cx="765.6" cy="861.0" r="3.45"/>
<circle cx="765.6" cy="865.4" r="3.45"/>
<circle cx="765.6" cy="869.8" r="3.45"/>
<circle cx="776.9" cy="799.9" r="3.45"/>
<circle cx="776.9" cy="806.8" r="3.45"/>
<circle cx="776.9" cy="811.2" r="3.45"/>
<circle cx="776.9" cy="816.9" r="3.45"/>
<circle cx="776.9" cy="823.2" r="3.45"/>
<circle cx="776.9" cy="826.3" r="3.45"/>
<circle cx="776.9" cy="830.1" r="3.45"/>
<circle cx="776.9" cy="839.5" r="3.45"/>
<circle cx="776.9" cy="849.6" r="3.45"/>
<circle cx="788.5" cy="787.9" r="3.45"/>
<circle cx="788.5" cy="795.4" r="3.45"/>
<circle cx="788.5" cy="811.2" r="3.45"/>
<circle cx="788.5" cy="814.3" r="3.45"/>
<circle cx="788.5" cy="834.5" r="3.45"/>
<circle cx="788.5" cy="845.2" r="3.45"/>
<circle cx="788.5" cy="849.6" r="3.45"/>
<circle cx="788.5" cy="882.0" r="3.45"/>
<circle cx="799.9" cy="779.7" r="3.45"/>
<circle cx="799.9" cy="796.1" r="3.45"/>
<circle cx="799.9" cy="821.3" r="3.45"/>
<circle cx="799.9" cy="827.6" r="3.45"/>
<circle cx="799.9" cy="835.1" r="3.45"/>
<circle cx="799.9" cy="838.3" r="3.45"/>
<circle cx="799.9" cy="869.4" r="3.45"/>
<circle cx="799.9" cy="876.4" r="3.45"/>
<circle cx="811.3" cy="760.2" r="3.45"/>
<circle cx="811.3" cy="773.1" r="3.45"/>
<circle cx="811.3" cy="813.1" r="3.45"/>
<circle cx="811.3" cy="818.1" r="3.45"/>
<circle cx="811.3" cy="825.7" r="3.45"/>
<circle cx="811.3" cy="830.1" r="3.45"/>
<circle cx="811.3" cy="833.9" r="3.45"/>
<circle cx="811.3" cy="845.5" r="3.45"/>
<circle cx="822.7" cy="834.2" r="3.45"/>
<circle cx="822.7" cy="845.8" r="3.45"/>
<circle cx="822.7" cy="859.1" r="3.45"/>
<circle cx="822.7" cy="865.4" r="3.45"/>
<circle cx="822.7" cy="870.4" r="3.45"/>
<circle cx="822.7" cy="877.3" r="3.45"/>
<circle cx="822.7" cy="881.7" r="3.45"/>
<circle cx="834.1" cy="756.0" r="3.45"/>
<circle cx="834.1" cy="759.5" r="3.45"/>
<circle cx="834.1" cy="767.7" r="3.45"/>
<circle cx="834.1" cy="771.5" r="3.45"/>
<circle cx="834.1" cy="775.9" r="3.45"/>
<circle cx="834.1" cy="792.9" r="3.45"/>
<circle cx="834.1" cy="806.8" r="3.45"/>
<circle cx="834.1" cy="809.9" r="3.45"/>
<circle cx="845.5" cy="755.8" r="3.45"/>
<circle cx="845.5" cy="775.3" r="3.45"/>
<circle cx="845.5" cy="795.4" r="3.45"/>
<circle cx="845.5" cy="798.6" r="3.45"/>
<circle cx="845.5" cy="809.9" r="3.45"/>
<circle cx="845.5" cy="813.1" r="3.45"/>
<circle cx="845.5" cy="824.4" r="3.45"/>
<circle cx="845.5" cy="830.1" r="3.45"/>
<circle cx="845.5" cy="837.0" r="3.45"/>
<circle cx="856.9" cy="779.3" r="3.45"/>
<circle cx="856.9" cy="802.4" r="3.45"/>
<circle cx="856.9" cy="805.5" r="3.45"/>
<circle cx="856.9" cy="816.2" r="3.45"/>
<circle cx="856.9" cy="820.0" r="3.45"/>
<circle cx="856.9" cy="823.8" r="3.45"/>
<circle cx="856.9" cy="827.6" r="3.45"/>
<circle cx="856.9" cy="837.0" r="3.45"/>
<circle cx="856.9" cy="862.8" r="3.45"/>
<circle cx="856.9" cy="877.0" r="3.45"/>
<circle cx="868.2" cy="820.6" r="3.45"/>
<circle cx="868.2" cy="830.1" r="3.45"/>
<circle cx="868.2" cy="832.6" r="3.45"/>
<circle cx="868.2" cy="849.0" r="3.45"/>
<circle cx="868.2" cy="852.8" r="3.45"/>
<circle cx="868.2" cy="859.1" r="3.45"/>
<circle cx="868.2" cy="866.6" r="3.45"/>
<circle cx="868.2" cy="876.1" r="3.45"/>
<circle cx="891.6" cy="832.9" r="3.45"/>
<circle cx="891.6" cy="849.9" r="3.45"/>
<circle cx="891.6" cy="867.3" r="3.45"/>
<circle cx="891.6" cy="872.9" r="3.45"/>
<circle cx="891.6" cy="876.7" r="3.45"/>
<circle cx="891.6" cy="880.5" r="3.45"/>
<circle cx="902.8" cy="867.0" r="3.45"/>
<circle cx="902.8" cy="880.5" r="3.45"/>
<circle cx="925.5" cy="827.6" r="3.45"/>
<circle cx="925.5" cy="830.7" r="3.45"/>
<circle cx="925.5" cy="842.7" r="3.45"/>
<circle cx="925.5" cy="846.5" r="3.45"/>
<circle cx="925.5" cy="852.1" r="3.45"/>
<circle cx="925.5" cy="855.3" r="3.45"/>
<circle cx="925.5" cy="857.8" r="3.45"/>
<circle cx="925.5" cy="862.8" r="3.45"/>
<circle cx="925.5" cy="871.7" r="3.45"/>
<circle cx="937.1" cy="801.5" r="3.45"/>
<circle cx="937.1" cy="823.5" r="3.45"/>
<circle cx="937.1" cy="838.3" r="3.45"/>
<circle cx="937.1" cy="841.4" r="3.45"/>
<circle cx="937.1" cy="847.7" r="3.45"/>
<circle cx="937.1" cy="850.9" r="3.45"/>
<circle cx="937.1" cy="853.4" r="3.45"/>
<circle cx="937.1" cy="866.0" r="3.45"/>
<circle cx="937.1" cy="869.1" r="3.45"/>
<circle cx="948.8" cy="832.4" r="3.45"/>
<circle cx="948.8" cy="856.3" r="3.45"/>
<circle cx="948.8" cy="865.7" r="3.45"/>
<circle cx="948.8" cy="873.6" r="3.45"/>
<circle cx="960.1" cy="766.2" r="3.45"/>
<circle cx="960.1" cy="776.3" r="3.45"/>
<circle cx="960.1" cy="784.7" r="3.45"/>
<circle cx="960.1" cy="787.9" r="3.45"/>
<circle cx="960.1" cy="791.0" r="3.45"/>
<circle cx="960.1" cy="805.1" r="3.45"/>
<circle cx="960.1" cy="822.5" r="3.45"/>
<circle cx="960.1" cy="829.1" r="3.45"/>
<circle cx="971.4" cy="759.3" r="3.45"/>
<circle cx="971.4" cy="789.8" r="3.45"/>
<circle cx="971.4" cy="794.8" r="3.45"/>
<circle cx="971.4" cy="800.5" r="3.45"/>
<circle cx="971.4" cy="810.2" r="3.45"/>
<circle cx="971.4" cy="835.8" r="3.45"/>
<circle cx="971.4" cy="840.8" r="3.45"/>
<circle cx="971.4" cy="855.9" r="3.45"/>
<circle cx="971.4" cy="860.3" r="3.45"/>
<circle cx="971.4" cy="863.5" r="3.45"/>
<circle cx="982.8" cy="765.5" r="3.45"/>
<circle cx="982.8" cy="784.1" r="3.45"/>
<circle cx="982.8" cy="790.4" r="3.45"/>
<circle cx="982.8" cy="802.6" r="3.45"/>
<circle cx="982.8" cy="810.9" r="3.45"/>
<circle cx="982.8" cy="823.8" r="3.45"/>
<circle cx="982.8" cy="840.8" r="3.45"/>
<circle cx="982.8" cy="842.7" r="3.45"/>
<circle cx="982.8" cy="862.2" r="3.45"/>
<circle cx="982.8" cy="880.5" r="3.45"/>
<circle cx="994.5" cy="774.9" r="3.45"/>
<circle cx="994.5" cy="795.4" r="3.45"/>
<circle cx="994.5" cy="804.9" r="3.45"/>
<circle cx="994.5" cy="808.0" r="3.45"/>
<circle cx="994.5" cy="815.0" r="3.45"/>
<circle cx="994.5" cy="818.1" r="3.45"/>
<circle cx="994.5" cy="824.8" r="3.45"/>
<circle cx="994.5" cy="846.7" r="3.45"/>
<circle cx="994.5" cy="857.8" r="3.45"/>
<circle cx="1006.1" cy="795.1" r="3.45"/>
<circle cx="1006.1" cy="832.9" r="3.45"/>
<circle cx="1006.1" cy="879.9" r="3.45"/>
<circle cx="1017.4" cy="881.1" r="3.45"/>
<circle cx="822.7" cy="885.5" r="3.45"/>
<circle cx="822.7" cy="889.6" r="3.45"/>
<circle cx="822.7" cy="894.1" r="3.45"/>
<circle cx="765.6" cy="921.2" r="3.45"/>
<circle cx="799.9" cy="904.7" r="3.45"/>
<circle cx="799.9" cy="915.1" r="3.45"/>
<circle cx="880.0" cy="889.0" r="3.45"/>
<circle cx="880.0" cy="898.1" r="3.45"/>
<circle cx="880.0" cy="901.9" r="3.45"/>
<circle cx="880.0" cy="906.3" r="3.45"/>
<circle cx="880.0" cy="910.1" r="3.45"/>
<circle cx="880.0" cy="913.9" r="3.45"/>
<circle cx="880.0" cy="917.6" r="3.45"/>
<circle cx="880.0" cy="931.5" r="3.45"/>
<circle cx="880.0" cy="937.4" r="3.45"/>
<circle cx="880.0" cy="962.1" r="3.45"/>
<circle cx="891.6" cy="888.7" r="3.45"/>
<circle cx="891.6" cy="896.6" r="3.45"/>
<circle cx="891.6" cy="913.9" r="3.45"/>
<circle cx="902.8" cy="904.4" r="3.45"/>
<circle cx="902.8" cy="910.1" r="3.45"/>
<circle cx="902.8" cy="913.2" r="3.45"/>
<circle cx="902.8" cy="916.4" r="3.45"/>
<circle cx="902.8" cy="925.8" r="3.45"/>
<circle cx="902.8" cy="942.2" r="3.45"/>
<circle cx="902.8" cy="946.0" r="3.45"/>
<circle cx="902.8" cy="951.7" r="3.45"/>
<circle cx="902.8" cy="971.8" r="3.45"/>
<circle cx="914.1" cy="934.0" r="3.45"/>
<circle cx="914.1" cy="937.2" r="3.45"/>
<circle cx="914.1" cy="951.0" r="3.45"/>
<circle cx="914.1" cy="954.2" r="3.45"/>
<circle cx="914.1" cy="975.0" r="3.45"/>
<circle cx="914.1" cy="978.7" r="3.45"/>
<circle cx="914.1" cy="997.0" r="3.45"/>
<circle cx="914.1" cy="1000.8" r="3.45"/>
<circle cx="914.1" cy="1014.7" r="3.45"/>
<circle cx="914.1" cy="1021.6" r="3.45"/>
<circle cx="925.5" cy="926.5" r="3.45"/>
<circle cx="937.1" cy="915.1" r="3.45"/>
<circle cx="948.8" cy="887.4" r="3.45"/>
<circle cx="948.8" cy="891.8" r="3.45"/>
<circle cx="948.8" cy="903.8" r="3.45"/>
<circle cx="948.8" cy="930.9" r="3.45"/>
<circle cx="948.8" cy="989.2" r="3.45"/>
<circle cx="1006.1" cy="889.9" r="3.45"/>
<circle cx="1006.1" cy="901.0" r="3.45"/>
<circle cx="1006.1" cy="918.3" r="3.45"/>
<circle cx="1006.1" cy="935.3" r="3.45"/>
<circle cx="1006.1" cy="940.3" r="3.45"/>
<circle cx="1006.1" cy="944.7" r="3.45"/>
<circle cx="1006.1" cy="983.2" r="3.45"/>
<circle cx="1017.4" cy="895.6" r="3.45"/>
<circle cx="1017.4" cy="900.6" r="3.45"/>
<circle cx="1017.4" cy="913.2" r="3.45"/>
<circle cx="1017.4" cy="933.4" r="3.45"/>
<circle cx="1017.4" cy="947.0" r="3.45"/>
<circle cx="1017.4" cy="968.4" r="3.45"/>
<circle cx="1017.4" cy="1017.2" r="3.45"/>
<circle cx="1017.4" cy="1032.7" r="3.45"/>
<circle cx="914.5" cy="1183.4" r="3.45"/>
<circle cx="1059.4" cy="806.4" r="3.45"/>
<circle cx="1059.4" cy="820.0" r="3.45"/>
<circle cx="1059.4" cy="823.8" r="3.45"/>
<circle cx="1059.4" cy="826.9" r="3.45"/>
<circle cx="1059.4" cy="861.6" r="3.45"/>
<circle cx="1059.4" cy="882.4" r="3.45"/>
<circle cx="1071.0" cy="787.3" r="3.45"/>
<circle cx="1071.0" cy="804.3" r="3.45"/>
<circle cx="1071.0" cy="809.9" r="3.45"/>
<circle cx="1071.0" cy="816.2" r="3.45"/>
<circle cx="1071.0" cy="826.1" r="3.45"/>
<circle cx="1071.0" cy="840.4" r="3.45"/>
<circle cx="1071.0" cy="850.9" r="3.45"/>
<circle cx="1071.0" cy="858.1" r="3.45"/>
<circle cx="1082.3" cy="797.1" r="3.45"/>
<circle cx="1082.3" cy="804.3" r="3.45"/>
<circle cx="1082.3" cy="807.4" r="3.45"/>
<circle cx="1082.3" cy="810.6" r="3.45"/>
<circle cx="1082.3" cy="813.7" r="3.45"/>
<circle cx="1082.3" cy="816.9" r="3.45"/>
<circle cx="1082.3" cy="820.0" r="3.45"/>
<circle cx="1082.3" cy="823.2" r="3.45"/>
<circle cx="1082.3" cy="836.4" r="3.45"/>
<circle cx="1082.3" cy="839.5" r="3.45"/>
<circle cx="1093.7" cy="791.7" r="3.45"/>
<circle cx="1093.7" cy="794.8" r="3.45"/>
<circle cx="1093.7" cy="798.3" r="3.45"/>
<circle cx="1093.7" cy="816.5" r="3.45"/>
<circle cx="1093.7" cy="821.3" r="3.45"/>
<circle cx="1093.7" cy="834.5" r="3.45"/>
<circle cx="1093.7" cy="837.0" r="3.45"/>
<circle cx="1093.7" cy="854.0" r="3.45"/>
<circle cx="1093.7" cy="856.5" r="3.45"/>
<circle cx="1105.2" cy="788.5" r="3.45"/>
<circle cx="1105.2" cy="807.4" r="3.45"/>
<circle cx="1105.2" cy="833.2" r="3.45"/>
<circle cx="1105.2" cy="846.5" r="3.45"/>
<circle cx="1105.2" cy="850.2" r="3.45"/>
<circle cx="1105.2" cy="882.4" r="3.45"/>
<circle cx="1116.7" cy="774.4" r="3.45"/>
<circle cx="1116.7" cy="781.6" r="3.45"/>
<circle cx="1116.7" cy="829.5" r="3.45"/>
<circle cx="1116.7" cy="838.3" r="3.45"/>
<circle cx="1116.7" cy="841.4" r="3.45"/>
<circle cx="1116.7" cy="844.6" r="3.45"/>
<circle cx="1116.7" cy="862.2" r="3.45"/>
<circle cx="1128.0" cy="772.1" r="3.45"/>
<circle cx="1128.0" cy="774.7" r="3.45"/>
<circle cx="1128.0" cy="783.7" r="3.45"/>
<circle cx="1128.0" cy="799.0" r="3.45"/>
<circle cx="1128.0" cy="806.8" r="3.45"/>
<circle cx="1128.0" cy="811.2" r="3.45"/>
<circle cx="1128.0" cy="839.5" r="3.45"/>
<circle cx="1128.0" cy="849.6" r="3.45"/>
<circle cx="1128.0" cy="852.1" r="3.45"/>
<circle cx="1128.0" cy="855.9" r="3.45"/>
<circle cx="1139.4" cy="757.0" r="3.45"/>
<circle cx="1139.4" cy="760.8" r="3.45"/>
<circle cx="1139.4" cy="764.6" r="3.45"/>
<circle cx="1139.4" cy="767.7" r="3.45"/>
<circle cx="1139.4" cy="770.9" r="3.45"/>
<circle cx="1139.4" cy="774.7" r="3.45"/>
<circle cx="1139.4" cy="788.5" r="3.45"/>
<circle cx="1139.4" cy="805.5" r="3.45"/>
<circle cx="1139.4" cy="808.0" r="3.45"/>
<circle cx="1150.9" cy="759.3" r="3.45"/>
<circle cx="1150.9" cy="791.4" r="3.45"/>
<circle cx="1150.9" cy="814.3" r="3.45"/>
<circle cx="1150.9" cy="816.9" r="3.45"/>
<circle cx="1150.9" cy="824.4" r="3.45"/>
<circle cx="1150.9" cy="836.4" r="3.45"/>
<circle cx="1150.9" cy="840.8" r="3.45"/>
<circle cx="1150.9" cy="844.6" r="3.45"/>
<circle cx="1150.9" cy="858.8" r="3.45"/>
<circle cx="1162.3" cy="771.9" r="3.45"/>
<circle cx="1162.3" cy="788.8" r="3.45"/>
<circle cx="1162.3" cy="798.6" r="3.45"/>
<circle cx="1162.3" cy="813.5" r="3.45"/>
<circle cx="1162.3" cy="816.2" r="3.45"/>
<circle cx="1162.3" cy="823.2" r="3.45"/>
<circle cx="1162.3" cy="825.0" r="3.45"/>
<circle cx="1162.3" cy="835.8" r="3.45"/>
<circle cx="1162.3" cy="857.6" r="3.45"/>
<circle cx="1162.3" cy="866.4" r="3.45"/>
<circle cx="1173.7" cy="773.4" r="3.45"/>
<circle cx="1173.7" cy="776.5" r="3.45"/>
<circle cx="1173.7" cy="784.7" r="3.45"/>
<circle cx="1173.7" cy="789.8" r="3.45"/>
<circle cx="1173.7" cy="793.6" r="3.45"/>
<circle cx="1173.7" cy="798.0" r="3.45"/>
<circle cx="1173.7" cy="801.7" r="3.45"/>
<circle cx="1173.7" cy="806.1" r="3.45"/>
<circle cx="1173.7" cy="818.1" r="3.45"/>
<circle cx="1185.2" cy="796.7" r="3.45"/>
<circle cx="1185.2" cy="811.2" r="3.45"/>
<circle cx="1185.2" cy="815.0" r="3.45"/>
<circle cx="1185.2" cy="827.6" r="3.45"/>
<circle cx="1185.2" cy="830.7" r="3.45"/>
<circle cx="1185.2" cy="840.8" r="3.45"/>
<circle cx="1185.2" cy="854.7" r="3.45"/>
<circle cx="1185.2" cy="859.7" r="3.45"/>
<circle cx="1196.7" cy="803.3" r="3.45"/>
<circle cx="1196.7" cy="816.2" r="3.45"/>
<circle cx="1196.7" cy="820.0" r="3.45"/>
<circle cx="1196.7" cy="823.8" r="3.45"/>
<circle cx="1196.7" cy="827.6" r="3.45"/>
<circle cx="1196.7" cy="831.3" r="3.45"/>
<circle cx="1196.7" cy="849.0" r="3.45"/>
<circle cx="1196.7" cy="852.1" r="3.45"/>
<circle cx="1196.7" cy="864.1" r="3.45"/>
<circle cx="1208.2" cy="796.7" r="3.45"/>
<circle cx="1208.2" cy="799.9" r="3.45"/>
<circle cx="1208.2" cy="819.8" r="3.45"/>
<circle cx="1208.2" cy="833.2" r="3.45"/>
<circle cx="1208.2" cy="837.0" r="3.45"/>
<circle cx="1208.2" cy="850.5" r="3.45"/>
<circle cx="1208.2" cy="871.7" r="3.45"/>
<circle cx="1219.5" cy="810.2" r="3.45"/>
<circle cx="1219.5" cy="823.8" r="3.45"/>
<circle cx="1219.5" cy="826.9" r="3.45"/>
<circle cx="1219.5" cy="830.1" r="3.45"/>
<circle cx="1219.5" cy="833.2" r="3.45"/>
<circle cx="1219.5" cy="837.0" r="3.45"/>
<circle cx="1219.5" cy="840.2" r="3.45"/>
<circle cx="1231.2" cy="756.1" r="3.45"/>
<circle cx="1231.2" cy="771.3" r="3.45"/>
<circle cx="1231.2" cy="784.7" r="3.45"/>
<circle cx="1231.2" cy="787.9" r="3.45"/>
<circle cx="1231.2" cy="795.4" r="3.45"/>
<circle cx="1231.2" cy="798.6" r="3.45"/>
<circle cx="1231.2" cy="801.7" r="3.45"/>
<circle cx="1231.2" cy="804.9" r="3.45"/>
<circle cx="1231.2" cy="813.7" r="3.45"/>
<circle cx="1231.2" cy="820.0" r="3.45"/>
<circle cx="1231.2" cy="852.1" r="3.45"/>
<circle cx="1242.6" cy="803.0" r="3.45"/>
<circle cx="1242.6" cy="812.4" r="3.45"/>
<circle cx="1242.6" cy="815.0" r="3.45"/>
<circle cx="1242.6" cy="828.2" r="3.45"/>
<circle cx="1242.6" cy="831.3" r="3.45"/>
<circle cx="1242.6" cy="834.5" r="3.45"/>
<circle cx="1242.6" cy="837.6" r="3.45"/>
<circle cx="1242.6" cy="841.4" r="3.45"/>
<circle cx="1242.6" cy="845.8" r="3.45"/>
<circle cx="1242.6" cy="867.3" r="3.45"/>
<circle cx="1242.6" cy="870.4" r="3.45"/>
<circle cx="1254.1" cy="777.8" r="3.45"/>
<circle cx="1254.1" cy="789.1" r="3.45"/>
<circle cx="1254.1" cy="798.6" r="3.45"/>
<circle cx="1254.1" cy="801.7" r="3.45"/>
<circle cx="1254.1" cy="804.9" r="3.45"/>
<circle cx="1254.1" cy="817.5" r="3.45"/>
<circle cx="1254.1" cy="820.6" r="3.45"/>
<circle cx="1254.1" cy="830.1" r="3.45"/>
<circle cx="1254.1" cy="834.5" r="3.45"/>
<circle cx="1254.1" cy="870.7" r="3.45"/>
<circle cx="1265.5" cy="794.6" r="3.45"/>
<circle cx="1265.5" cy="798.6" r="3.45"/>
<circle cx="1265.5" cy="802.4" r="3.45"/>
<circle cx="1265.5" cy="805.5" r="3.45"/>
<circle cx="1265.5" cy="808.7" r="3.45"/>
<circle cx="1265.5" cy="811.8" r="3.45"/>
<circle cx="1265.5" cy="815.0" r="3.45"/>
<circle cx="1265.5" cy="817.5" r="3.45"/>
<circle cx="1265.5" cy="828.2" r="3.45"/>
<circle cx="1265.5" cy="837.9" r="3.45"/>
<circle cx="1265.5" cy="852.8" r="3.45"/>
<circle cx="1276.8" cy="748.2" r="3.45"/>
<circle cx="1276.8" cy="774.0" r="3.45"/>
<circle cx="1276.8" cy="778.4" r="3.45"/>
<circle cx="1276.8" cy="781.6" r="3.45"/>
<circle cx="1276.8" cy="785.4" r="3.45"/>
<circle cx="1276.8" cy="801.7" r="3.45"/>
<circle cx="1276.8" cy="809.9" r="3.45"/>
<circle cx="1276.8" cy="813.1" r="3.45"/>
<circle cx="1276.8" cy="826.1" r="3.45"/>
<circle cx="1276.8" cy="838.9" r="3.45"/>
<circle cx="1276.8" cy="842.1" r="3.45"/>
<circle cx="1288.4" cy="767.5" r="3.45"/>
<circle cx="1288.4" cy="788.5" r="3.45"/>
<circle cx="1288.4" cy="793.6" r="3.45"/>
<circle cx="1288.4" cy="806.8" r="3.45"/>
<circle cx="1288.4" cy="810.6" r="3.45"/>
<circle cx="1288.4" cy="831.1" r="3.45"/>
<circle cx="1288.4" cy="838.7" r="3.45"/>
<circle cx="1288.4" cy="846.5" r="3.45"/>
<circle cx="1288.4" cy="874.2" r="3.45"/>
<circle cx="1299.9" cy="778.8" r="3.45"/>
<circle cx="1299.9" cy="796.7" r="3.45"/>
<circle cx="1299.9" cy="800.5" r="3.45"/>
<circle cx="1299.9" cy="804.3" r="3.45"/>
<circle cx="1299.9" cy="807.4" r="3.45"/>
<circle cx="1299.9" cy="810.6" r="3.45"/>
<circle cx="1299.9" cy="813.7" r="3.45"/>
<circle cx="1299.9" cy="818.7" r="3.45"/>
<circle cx="1299.9" cy="839.5" r="3.45"/>
<circle cx="1299.9" cy="842.7" r="3.45"/>
<circle cx="1311.2" cy="798.0" r="3.45"/>
<circle cx="1311.2" cy="806.1" r="3.45"/>
<circle cx="1311.2" cy="813.5" r="3.45"/>
<circle cx="1311.2" cy="822.1" r="3.45"/>
<circle cx="1311.2" cy="840.4" r="3.45"/>
<circle cx="1311.2" cy="852.1" r="3.45"/>
<circle cx="1311.2" cy="855.9" r="3.45"/>
<circle cx="1311.2" cy="859.7" r="3.45"/>
<circle cx="1311.2" cy="863.5" r="3.45"/>
<circle cx="1311.2" cy="867.3" r="3.45"/>
<circle cx="1311.2" cy="879.2" r="3.45"/>
<circle cx="1322.8" cy="788.5" r="3.45"/>
<circle cx="1322.8" cy="791.7" r="3.45"/>
<circle cx="1322.8" cy="795.4" r="3.45"/>
<circle cx="1322.8" cy="812.7" r="3.45"/>
<circle cx="1322.8" cy="834.1" r="3.45"/>
<circle cx="1322.8" cy="855.3" r="3.45"/>
<circle cx="1322.8" cy="859.7" r="3.45"/>
<circle cx="1322.8" cy="873.6" r="3.45"/>
<circle cx="1070.7" cy="888.1" r="3.45"/>
<circle cx="1094.0" cy="887.9" r="3.45"/>
<circle cx="1105.3" cy="890.8" r="3.45"/>
<circle cx="1105.3" cy="915.7" r="3.45"/>
<circle cx="1105.3" cy="919.8" r="3.45"/>
<circle cx="1208.2" cy="891.3" r="3.45"/>
<circle cx="1219.5" cy="885.2" r="3.45"/>
<circle cx="1219.5" cy="888.6" r="3.45"/>
<circle cx="1219.5" cy="892.0" r="3.45"/>
<circle cx="1242.8" cy="886.3" r="3.45"/>
<circle cx="1253.8" cy="890.1" r="3.45"/>
<circle cx="1288.4" cy="928.8" r="3.45"/>
<circle cx="1268.6" cy="254.6" r="3.45"/>
<circle cx="1273.7" cy="253.3" r="3.45"/>
<circle cx="1268.6" cy="265.9" r="3.45"/>
<circle cx="1276.2" cy="260.9" r="3.45"/>
<circle cx="1263.6" cy="259.0" r="3.45"/>
<circle cx="1278.7" cy="259.0" r="3.45"/>
<circle cx="1271.1" cy="256.5" r="3.45"/>
<circle cx="1274.9" cy="265.9" r="3.45"/>
<circle cx="1264.9" cy="254.6" r="3.45"/>
<circle cx="1200.6" cy="233.2" r="3.45"/>
<circle cx="1195.6" cy="233.2" r="3.45"/>
<circle cx="1201.9" cy="238.2" r="3.45"/>
<circle cx="1206.9" cy="231.9" r="3.45"/>
<circle cx="1196.8" cy="228.8" r="3.45"/>
<circle cx="1203.1" cy="228.1" r="3.45"/>
</g>
</svg></body></html>
